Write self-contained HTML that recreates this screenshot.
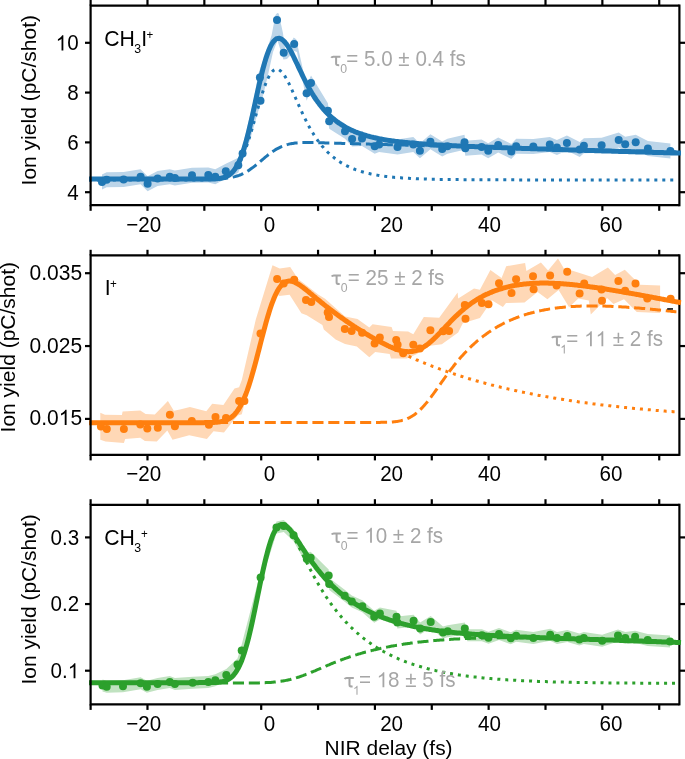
<!DOCTYPE html>
<html><head><meta charset="utf-8"><style>
html,body{margin:0;padding:0;background:#fff;}
svg{display:block;will-change:transform;}
.k{stroke:#000;stroke-width:2.2;fill:none;stroke-linecap:butt;}
.frame{stroke:#000;stroke-width:2.2;fill:none;}
.t{font-family:"Liberation Sans",sans-serif;font-size:20.6px;fill:#000;}
.yl{font-size:21.0px;} .xl{font-size:20.95px;}
.lab{font-size:21.2px;}
.g{fill:#a6a6a6;}
.one,.tau{fill-opacity:0;}
.sub{font-size:12.3px;} .sup{font-size:11.6px;}
</style></head><body>
<svg width="685" height="759" viewBox="0 0 685 759">
<path d="M679.40,5.60 L679.40,205.20" class="frame" style="stroke-linecap:square"/>
<path d="M679.40,255.40 L679.40,454.80" class="frame" style="stroke-linecap:square"/>
<path d="M679.40,504.80 L679.40,704.30" class="frame" style="stroke-linecap:square"/>
<clipPath id="c0"><rect x="89.0" y="4.6" width="592.6" height="201.6"/></clipPath>
<clipPath id="c0b"><rect x="89.0" y="4.6" width="587.5" height="201.6"/></clipPath>
<path d="M102.0,174.5 106.6,172.2 123.6,172.1 140.6,169.2 147.6,176.2 157.6,171.1 169.8,169.2 174.9,170.6 192.0,167.8 208.3,167.6 215.3,169.2 225.8,163.8 238.3,157.8 242.6,145.9 253.2,102.4 258.4,73.4 264.3,57.6 271.6,35.3 275.5,14.9 277.2,13.1 278.7,13.6 283.0,33.3 285.5,52.0 293.7,37.5 296.2,39.2 306.6,85.7 311.0,75.5 327.9,103.3 329.2,113.8 345.0,123.8 352.1,131.6 362.0,130.9 374.7,138.7 379.1,136.9 397.5,139.5 413.3,136.9 419.9,143.2 430.4,134.3 442.2,141.4 447.4,138.7 464.5,134.8 465.3,140.8 481.6,139.5 488.2,143.2 498.2,137.4 511.3,143.9 516.2,138.8 533.3,139.1 549.8,137.1 556.9,140.0 566.9,135.4 579.7,141.9 583.9,138.2 601.6,137.7 618.7,132.6 625.2,136.8 635.7,134.8 647.9,141.0 670.4,143.6 670.4,158.6 647.9,156.0 635.7,149.8 625.2,151.8 618.7,147.6 601.6,152.7 583.9,153.2 579.7,156.9 566.9,150.4 556.9,155.0 549.8,152.1 533.3,154.1 516.2,153.8 511.3,158.9 498.2,152.4 488.2,158.2 481.6,154.5 465.3,155.8 464.5,149.8 447.4,153.7 442.2,156.4 430.4,149.3 419.9,158.2 413.3,151.9 397.5,154.5 379.1,151.9 374.7,153.7 362.0,145.9 352.1,146.6 345.0,138.8 329.2,128.8 327.9,118.3 311.0,90.5 306.6,100.7 297.0,52.0 294.2,50.9 287.0,59.0 283.4,59.5 277.5,40.5 273.0,52.0 268.0,75.0 262.0,100.0 258.0,112.0 250.0,140.0 242.6,160.9 238.3,172.8 225.8,178.8 215.3,184.2 208.3,182.6 192.0,182.8 174.9,185.6 169.8,184.2 157.6,186.1 147.6,191.2 140.6,184.2 123.6,187.1 106.6,187.2 102.0,189.5 Z" fill="#bcd5e9" stroke="none"/>
<g clip-path="url(#c0b)"><path d="M89.0,179.9 90.0,179.9 91.0,179.9 92.0,179.9 93.0,179.9 94.0,179.9 95.0,179.9 96.0,179.9 97.0,179.9 98.0,179.9 99.0,179.9 100.0,179.9 101.0,179.9 102.0,179.9 103.0,179.9 104.0,179.9 105.0,179.9 106.0,179.9 107.0,179.9 108.0,179.9 109.0,179.9 110.0,179.9 111.0,179.9 112.0,179.9 113.0,179.9 114.0,179.9 115.0,179.9 116.0,179.9 117.0,179.9 118.0,179.9 119.0,179.9 120.0,179.9 121.0,179.9 122.0,179.9 123.0,179.9 124.0,179.9 125.0,179.9 126.0,179.9 127.0,179.9 128.0,179.9 129.0,179.9 130.0,179.9 131.0,179.9 132.0,179.9 133.0,179.9 134.0,179.9 135.0,179.9 136.0,179.9 137.0,179.9 138.0,179.9 139.0,179.9 140.0,179.9 141.0,179.9 142.0,179.9 143.0,179.9 144.0,179.9 145.0,179.9 146.0,179.9 147.0,179.9 148.0,179.9 149.0,179.9 150.0,179.9 151.0,179.9 152.0,179.9 153.0,179.9 154.0,179.9 155.0,179.9 156.0,179.9 157.0,179.9 158.0,179.9 159.0,179.9 160.0,179.9 161.0,179.9 162.0,179.9 163.0,179.9 164.0,179.9 165.0,179.9 166.0,179.9 167.0,179.9 168.0,179.9 169.0,179.9 170.0,179.9 171.0,179.9 172.0,179.9 173.0,179.9 174.0,179.9 175.0,179.9 176.0,179.9 177.0,179.9 178.0,179.9 179.0,179.9 180.0,179.9 181.0,179.9 182.0,179.9 183.0,179.9 184.0,179.9 185.0,179.9 186.0,179.9 187.0,179.9 188.0,179.9 189.0,179.9 190.0,179.9 191.0,179.9 192.0,179.9 193.0,179.9 194.0,179.9 195.0,179.9 196.0,179.9 197.0,179.9 198.0,179.9 199.0,179.9 200.0,179.9 201.0,179.9 202.0,179.9 203.0,179.9 204.0,179.8 205.0,179.8 206.0,179.8 207.0,179.8 208.0,179.8 209.0,179.8 210.0,179.7 211.0,179.7 212.0,179.7 213.0,179.6 214.0,179.5 215.0,179.5 216.0,179.4 217.0,179.3 218.0,179.2 219.0,179.0 220.0,178.8 221.0,178.6 222.0,178.4 223.0,178.1 224.0,177.8 225.0,177.5 226.0,177.0 227.0,176.6 228.0,176.0 229.0,175.4 230.0,174.7 231.0,173.9 232.0,173.1 233.0,172.1 234.0,171.0 235.0,169.8 236.0,168.5 237.0,167.1 238.0,165.5 239.0,163.8 240.0,162.0 241.0,160.0 242.0,157.8 243.0,155.6 244.0,153.1 245.0,150.6 246.0,147.8 247.0,145.0 248.0,142.0 249.0,138.9 250.0,135.7 251.0,132.4 252.0,129.0 253.0,125.5 254.0,122.0 255.0,118.5 256.0,114.9 257.0,111.4 258.0,107.8 259.0,104.4 260.0,100.9 261.0,97.6 262.0,94.4 263.0,91.3 264.0,88.3 265.0,85.6 266.0,82.9 267.0,80.5 268.0,78.3 269.0,76.4 270.0,74.6 271.0,73.1 272.0,71.9 273.0,70.8 274.0,70.1 275.0,69.5 276.0,69.3 277.0,69.2 278.0,69.4 279.0,69.8 280.0,70.5 281.0,71.3 282.0,72.3 283.0,73.5 284.0,74.9 285.0,76.4 286.0,78.1 287.0,79.8 288.0,81.7 289.0,83.7 290.0,85.7 291.0,87.9 292.0,90.0 293.0,92.3 294.0,94.5 295.0,96.8 296.0,99.0 297.0,101.3 298.0,103.6 299.0,105.8 300.0,108.1 301.0,110.3 302.0,112.4 303.0,114.6 304.0,116.7 305.0,118.7 306.0,120.7 307.0,122.7 308.0,124.6 309.0,126.4 310.0,128.2 311.0,130.0 312.0,131.7 313.0,133.3 314.0,134.9 315.0,136.5 316.0,138.0 317.0,139.4 318.0,140.8 319.0,142.2 320.0,143.5 321.0,144.7 322.0,146.0 323.0,147.1 324.0,148.3 325.0,149.4 326.0,150.5 327.0,151.5 328.0,152.5 329.0,153.4 330.0,154.4 331.0,155.2 332.0,156.1 333.0,156.9 334.0,157.7 335.0,158.5 336.0,159.3 337.0,160.0 338.0,160.7 339.0,161.4 340.0,162.0 341.0,162.6 342.0,163.2 343.0,163.8 344.0,164.4 345.0,164.9 346.0,165.4 347.0,165.9 348.0,166.4 349.0,166.9 350.0,167.4 351.0,167.8 352.0,168.2 353.0,168.6 354.0,169.0 355.0,169.4 356.0,169.8 357.0,170.1 358.0,170.5 359.0,170.8 360.0,171.1 361.0,171.4 362.0,171.7 363.0,172.0 364.0,172.3 365.0,172.5 366.0,172.8 367.0,173.0 368.0,173.3 369.0,173.5 370.0,173.7 371.0,174.0 372.0,174.2 373.0,174.4 374.0,174.6 375.0,174.7 376.0,174.9 377.0,175.1 378.0,175.3 379.0,175.4 380.0,175.6 381.0,175.7 382.0,175.9 383.0,176.0 384.0,176.1 385.0,176.3 386.0,176.4 387.0,176.5 388.0,176.6 389.0,176.8 390.0,176.9 391.0,177.0 392.0,177.1 393.0,177.2 394.0,177.3 395.0,177.4 396.0,177.4 397.0,177.5 398.0,177.6 399.0,177.7 400.0,177.8 401.0,177.8 402.0,177.9 403.0,178.0 404.0,178.0 405.0,178.1 406.0,178.2 407.0,178.2 408.0,178.3 409.0,178.3 410.0,178.4 411.0,178.5 412.0,178.5 413.0,178.6 414.0,178.6 415.0,178.6 416.0,178.7 417.0,178.7 418.0,178.8 419.0,178.8 420.0,178.8 421.0,178.9 422.0,178.9 423.0,179.0 424.0,179.0 425.0,179.0 426.0,179.0 427.0,179.1 428.0,179.1 429.0,179.1 430.0,179.2 431.0,179.2 432.0,179.2 433.0,179.2 434.0,179.3 435.0,179.3 436.0,179.3 437.0,179.3 438.0,179.3 439.0,179.4 440.0,179.4 441.0,179.4 442.0,179.4 443.0,179.4 444.0,179.4 445.0,179.5 446.0,179.5 447.0,179.5 448.0,179.5 449.0,179.5 450.0,179.5 451.0,179.5 452.0,179.6 453.0,179.6 454.0,179.6 455.0,179.6 456.0,179.6 457.0,179.6 458.0,179.6 459.0,179.6 460.0,179.6 461.0,179.6 462.0,179.6 463.0,179.7 464.0,179.7 465.0,179.7 466.0,179.7 467.0,179.7 468.0,179.7 469.0,179.7 470.0,179.7 471.0,179.7 472.0,179.7 473.0,179.7 474.0,179.7 475.0,179.7 476.0,179.7 477.0,179.7 478.0,179.8 479.0,179.8 480.0,179.8 481.0,179.8 482.0,179.8 483.0,179.8 484.0,179.8 485.0,179.8 486.0,179.8 487.0,179.8 488.0,179.8 489.0,179.8 490.0,179.8 491.0,179.8 492.0,179.8 493.0,179.8 494.0,179.8 495.0,179.8 496.0,179.8 497.0,179.8 498.0,179.8 499.0,179.8 500.0,179.8 501.0,179.8 502.0,179.8 503.0,179.8 504.0,179.8 505.0,179.8 506.0,179.8 507.0,179.8 508.0,179.8 509.0,179.8 510.0,179.8 511.0,179.8 512.0,179.8 513.0,179.8 514.0,179.8 515.0,179.8 516.0,179.8 517.0,179.8 518.0,179.9 519.0,179.9 520.0,179.9 521.0,179.9 522.0,179.9 523.0,179.9 524.0,179.9 525.0,179.9 526.0,179.9 527.0,179.9 528.0,179.9 529.0,179.9 530.0,179.9 531.0,179.9 532.0,179.9 533.0,179.9 534.0,179.9 535.0,179.9 536.0,179.9 537.0,179.9 538.0,179.9 539.0,179.9 540.0,179.9 541.0,179.9 542.0,179.9 543.0,179.9 544.0,179.9 545.0,179.9 546.0,179.9 547.0,179.9 548.0,179.9 549.0,179.9 550.0,179.9 551.0,179.9 552.0,179.9 553.0,179.9 554.0,179.9 555.0,179.9 556.0,179.9 557.0,179.9 558.0,179.9 559.0,179.9 560.0,179.9 561.0,179.9 562.0,179.9 563.0,179.9 564.0,179.9 565.0,179.9 566.0,179.9 567.0,179.9 568.0,179.9 569.0,179.9 570.0,179.9 571.0,179.9 572.0,179.9 573.0,179.9 574.0,179.9 575.0,179.9 576.0,179.9 577.0,179.9 578.0,179.9 579.0,179.9 580.0,179.9 581.0,179.9 582.0,179.9 583.0,179.9 584.0,179.9 585.0,179.9 586.0,179.9 587.0,179.9 588.0,179.9 589.0,179.9 590.0,179.9 591.0,179.9 592.0,179.9 593.0,179.9 594.0,179.9 595.0,179.9 596.0,179.9 597.0,179.9 598.0,179.9 599.0,179.9 600.0,179.9 601.0,179.9 602.0,179.9 603.0,179.9 604.0,179.9 605.0,179.9 606.0,179.9 607.0,179.9 608.0,179.9 609.0,179.9 610.0,179.9 611.0,179.9 612.0,179.9 613.0,179.9 614.0,179.9 615.0,179.9 616.0,179.9 617.0,179.9 618.0,179.9 619.0,179.9 620.0,179.9 621.0,179.9 622.0,179.9 623.0,179.9 624.0,179.9 625.0,179.9 626.0,179.9 627.0,179.9 628.0,179.9 629.0,179.9 630.0,179.9 631.0,179.9 632.0,179.9 633.0,179.9 634.0,179.9 635.0,179.9 636.0,179.9 637.0,179.9 638.0,179.9 639.0,179.9 640.0,179.9 641.0,179.9 642.0,179.9 643.0,179.9 644.0,179.9 645.0,179.9 646.0,179.9 647.0,179.9 648.0,179.9 649.0,179.9 650.0,179.9 651.0,179.9 652.0,179.9 653.0,179.9 654.0,179.9 655.0,179.9 656.0,179.9 657.0,179.9 658.0,179.9 659.0,179.9 660.0,179.9 661.0,179.9 662.0,179.9 663.0,179.9 664.0,179.9 665.0,179.9 666.0,179.9 667.0,179.9 668.0,179.9 669.0,179.9 670.0,179.9 671.0,179.9 672.0,179.9 673.0,179.9 674.0,179.9 675.0,179.9 676.0,179.9 677.0,179.9 678.0,179.9 679.0,179.9 680.0,179.9 681.0,179.9" fill="none" stroke="#1f77b4" stroke-width="3" stroke-dasharray="3 4.95"/><path d="M89.0,179.0 90.0,179.0 91.0,179.0 92.0,179.0 93.0,179.0 94.0,179.0 95.0,179.0 96.0,179.0 97.0,179.0 98.0,179.0 99.0,179.0 100.0,179.0 101.0,179.0 102.0,179.0 103.0,179.0 104.0,179.0 105.0,179.0 106.0,179.0 107.0,179.0 108.0,179.0 109.0,179.0 110.0,179.0 111.0,179.0 112.0,179.0 113.0,179.0 114.0,179.0 115.0,179.0 116.0,179.0 117.0,179.0 118.0,179.0 119.0,179.0 120.0,179.0 121.0,179.0 122.0,179.0 123.0,179.0 124.0,179.0 125.0,179.0 126.0,179.0 127.0,179.0 128.0,179.0 129.0,179.0 130.0,179.0 131.0,179.0 132.0,179.0 133.0,179.0 134.0,179.0 135.0,179.0 136.0,179.0 137.0,179.0 138.0,179.0 139.0,179.0 140.0,179.0 141.0,179.0 142.0,179.0 143.0,179.0 144.0,179.0 145.0,179.0 146.0,179.0 147.0,179.0 148.0,179.0 149.0,179.0 150.0,179.0 151.0,179.0 152.0,179.0 153.0,179.0 154.0,179.0 155.0,179.0 156.0,179.0 157.0,179.0 158.0,179.0 159.0,179.0 160.0,179.0 161.0,179.0 162.0,179.0 163.0,179.0 164.0,179.0 165.0,179.0 166.0,179.0 167.0,179.0 168.0,179.0 169.0,179.0 170.0,179.0 171.0,179.0 172.0,179.0 173.0,179.0 174.0,179.0 175.0,179.0 176.0,179.0 177.0,179.0 178.0,179.0 179.0,179.0 180.0,179.0 181.0,179.0 182.0,179.0 183.0,179.0 184.0,179.0 185.0,179.0 186.0,179.0 187.0,179.0 188.0,179.0 189.0,179.0 190.0,179.0 191.0,179.0 192.0,179.0 193.0,179.0 194.0,179.0 195.0,179.0 196.0,179.0 197.0,179.0 198.0,179.0 199.0,179.0 200.0,179.0 201.0,179.0 202.0,179.0 203.0,179.0 204.0,179.0 205.0,179.0 206.0,179.0 207.0,179.0 208.0,179.0 209.0,179.0 210.0,179.0 211.0,179.0 212.0,179.0 213.0,178.9 214.0,178.9 215.0,178.9 216.0,178.9 217.0,178.8 218.0,178.8 219.0,178.8 220.0,178.7 221.0,178.7 222.0,178.6 223.0,178.5 224.0,178.4 225.0,178.4 226.0,178.3 227.0,178.1 228.0,178.0 229.0,177.9 230.0,177.7 231.0,177.5 232.0,177.3 233.0,177.1 234.0,176.9 235.0,176.6 236.0,176.3 237.0,176.0 238.0,175.7 239.0,175.4 240.0,175.0 241.0,174.6 242.0,174.1 243.0,173.6 244.0,173.1 245.0,172.6 246.0,172.1 247.0,171.5 248.0,170.9 249.0,170.2 250.0,169.5 251.0,168.8 252.0,168.1 253.0,167.4 254.0,166.6 255.0,165.8 256.0,165.0 257.0,164.2 258.0,163.4 259.0,162.5 260.0,161.7 261.0,160.8 262.0,160.0 263.0,159.1 264.0,158.3 265.0,157.4 266.0,156.6 267.0,155.8 268.0,155.0 269.0,154.2 270.0,153.5 271.0,152.7 272.0,152.0 273.0,151.3 274.0,150.7 275.0,150.0 276.0,149.4 277.0,148.8 278.0,148.3 279.0,147.8 280.0,147.3 281.0,146.8 282.0,146.4 283.0,146.0 284.0,145.6 285.0,145.2 286.0,144.9 287.0,144.6 288.0,144.4 289.0,144.1 290.0,143.9 291.0,143.7 292.0,143.5 293.0,143.4 294.0,143.2 295.0,143.1 296.0,143.0 297.0,142.9 298.0,142.8 299.0,142.7 300.0,142.7 301.0,142.6 302.0,142.6 303.0,142.6 304.0,142.6 305.0,142.5 306.0,142.5 307.0,142.5 308.0,142.5 309.0,142.5 310.0,142.5 311.0,142.5 312.0,142.6 313.0,142.6 314.0,142.6 315.0,142.6 316.0,142.6 317.0,142.7 318.0,142.7 319.0,142.7 320.0,142.7 321.0,142.8 322.0,142.8 323.0,142.8 324.0,142.8 325.0,142.9 326.0,142.9 327.0,142.9 328.0,142.9 329.0,143.0 330.0,143.0 331.0,143.0 332.0,143.1 333.0,143.1 334.0,143.1 335.0,143.2 336.0,143.2 337.0,143.2 338.0,143.2 339.0,143.3 340.0,143.3 341.0,143.3 342.0,143.4 343.0,143.4 344.0,143.4 345.0,143.4 346.0,143.5 347.0,143.5 348.0,143.5 349.0,143.6 350.0,143.6 351.0,143.6 352.0,143.6 353.0,143.7 354.0,143.7 355.0,143.7 356.0,143.8 357.0,143.8 358.0,143.8 359.0,143.8 360.0,143.9 361.0,143.9 362.0,143.9 363.0,144.0 364.0,144.0 365.0,144.0 366.0,144.0 367.0,144.1 368.0,144.1 369.0,144.1 370.0,144.2 371.0,144.2 372.0,144.2 373.0,144.2 374.0,144.3 375.0,144.3 376.0,144.3 377.0,144.4 378.0,144.4 379.0,144.4 380.0,144.4 381.0,144.5 382.0,144.5 383.0,144.5 384.0,144.6 385.0,144.6 386.0,144.6 387.0,144.6 388.0,144.7 389.0,144.7 390.0,144.7 391.0,144.8 392.0,144.8 393.0,144.8 394.0,144.8 395.0,144.9 396.0,144.9 397.0,144.9 398.0,144.9 399.0,145.0 400.0,145.0 401.0,145.0 402.0,145.1 403.0,145.1 404.0,145.1 405.0,145.1 406.0,145.2 407.0,145.2 408.0,145.2 409.0,145.3 410.0,145.3 411.0,145.3 412.0,145.3 413.0,145.4 414.0,145.4 415.0,145.4 416.0,145.4 417.0,145.5 418.0,145.5 419.0,145.5 420.0,145.6 421.0,145.6 422.0,145.6 423.0,145.6 424.0,145.7 425.0,145.7 426.0,145.7 427.0,145.7 428.0,145.8 429.0,145.8 430.0,145.8 431.0,145.9 432.0,145.9 433.0,145.9 434.0,145.9 435.0,146.0 436.0,146.0 437.0,146.0 438.0,146.0 439.0,146.1 440.0,146.1 441.0,146.1 442.0,146.2 443.0,146.2 444.0,146.2 445.0,146.2 446.0,146.3 447.0,146.3 448.0,146.3 449.0,146.3 450.0,146.4 451.0,146.4 452.0,146.4 453.0,146.4 454.0,146.5 455.0,146.5 456.0,146.5 457.0,146.5 458.0,146.6 459.0,146.6 460.0,146.6 461.0,146.7 462.0,146.7 463.0,146.7 464.0,146.7 465.0,146.8 466.0,146.8 467.0,146.8 468.0,146.8 469.0,146.9 470.0,146.9 471.0,146.9 472.0,146.9 473.0,147.0 474.0,147.0 475.0,147.0 476.0,147.0 477.0,147.1 478.0,147.1 479.0,147.1 480.0,147.2 481.0,147.2 482.0,147.2 483.0,147.2 484.0,147.3 485.0,147.3 486.0,147.3 487.0,147.3 488.0,147.4 489.0,147.4 490.0,147.4 491.0,147.4 492.0,147.5 493.0,147.5 494.0,147.5 495.0,147.5 496.0,147.6 497.0,147.6 498.0,147.6 499.0,147.6 500.0,147.7 501.0,147.7 502.0,147.7 503.0,147.7 504.0,147.8 505.0,147.8 506.0,147.8 507.0,147.8 508.0,147.9 509.0,147.9 510.0,147.9 511.0,147.9 512.0,148.0 513.0,148.0 514.0,148.0 515.0,148.1 516.0,148.1 517.0,148.1 518.0,148.1 519.0,148.2 520.0,148.2 521.0,148.2 522.0,148.2 523.0,148.3 524.0,148.3 525.0,148.3 526.0,148.3 527.0,148.4 528.0,148.4 529.0,148.4 530.0,148.4 531.0,148.5 532.0,148.5 533.0,148.5 534.0,148.5 535.0,148.6 536.0,148.6 537.0,148.6 538.0,148.6 539.0,148.7 540.0,148.7 541.0,148.7 542.0,148.7 543.0,148.8 544.0,148.8 545.0,148.8 546.0,148.8 547.0,148.8 548.0,148.9 549.0,148.9 550.0,148.9 551.0,148.9 552.0,149.0 553.0,149.0 554.0,149.0 555.0,149.0 556.0,149.1 557.0,149.1 558.0,149.1 559.0,149.1 560.0,149.2 561.0,149.2 562.0,149.2 563.0,149.2 564.0,149.3 565.0,149.3 566.0,149.3 567.0,149.3 568.0,149.4 569.0,149.4 570.0,149.4 571.0,149.4 572.0,149.5 573.0,149.5 574.0,149.5 575.0,149.5 576.0,149.6 577.0,149.6 578.0,149.6 579.0,149.6 580.0,149.7 581.0,149.7 582.0,149.7 583.0,149.7 584.0,149.7 585.0,149.8 586.0,149.8 587.0,149.8 588.0,149.8 589.0,149.9 590.0,149.9 591.0,149.9 592.0,149.9 593.0,150.0 594.0,150.0 595.0,150.0 596.0,150.0 597.0,150.1 598.0,150.1 599.0,150.1 600.0,150.1 601.0,150.1 602.0,150.2 603.0,150.2 604.0,150.2 605.0,150.2 606.0,150.3 607.0,150.3 608.0,150.3 609.0,150.3 610.0,150.4 611.0,150.4 612.0,150.4 613.0,150.4 614.0,150.5 615.0,150.5 616.0,150.5 617.0,150.5 618.0,150.5 619.0,150.6 620.0,150.6 621.0,150.6 622.0,150.6 623.0,150.7 624.0,150.7 625.0,150.7 626.0,150.7 627.0,150.8 628.0,150.8 629.0,150.8 630.0,150.8 631.0,150.8 632.0,150.9 633.0,150.9 634.0,150.9 635.0,150.9 636.0,151.0 637.0,151.0 638.0,151.0 639.0,151.0 640.0,151.1 641.0,151.1 642.0,151.1 643.0,151.1 644.0,151.1 645.0,151.2 646.0,151.2 647.0,151.2 648.0,151.2 649.0,151.3 650.0,151.3 651.0,151.3 652.0,151.3 653.0,151.3 654.0,151.4 655.0,151.4 656.0,151.4 657.0,151.4 658.0,151.5 659.0,151.5 660.0,151.5 661.0,151.5 662.0,151.6 663.0,151.6 664.0,151.6 665.0,151.6 666.0,151.6 667.0,151.7 668.0,151.7 669.0,151.7 670.0,151.7 671.0,151.8 672.0,151.8 673.0,151.8 674.0,151.8 675.0,151.8 676.0,151.9 677.0,151.9 678.0,151.9 679.0,151.9 680.0,152.0 681.0,152.0" fill="none" stroke="#1f77b4" stroke-width="3" stroke-dasharray="11.1 4.8" stroke-dashoffset="-0.8"/></g><g clip-path="url(#c0)"><path d="M89.0,179.1 90.0,179.1 91.0,179.1 92.0,179.1 93.0,179.1 94.0,179.1 95.0,179.1 96.0,179.1 97.0,179.1 98.0,179.1 99.0,179.1 100.0,179.1 101.0,179.1 102.0,179.1 103.0,179.1 104.0,179.1 105.0,179.1 106.0,179.1 107.0,179.1 108.0,179.1 109.0,179.1 110.0,179.1 111.0,179.1 112.0,179.1 113.0,179.1 114.0,179.1 115.0,179.1 116.0,179.1 117.0,179.1 118.0,179.1 119.0,179.1 120.0,179.1 121.0,179.1 122.0,179.1 123.0,179.1 124.0,179.1 125.0,179.1 126.0,179.1 127.0,179.1 128.0,179.1 129.0,179.1 130.0,179.1 131.0,179.1 132.0,179.1 133.0,179.1 134.0,179.1 135.0,179.1 136.0,179.1 137.0,179.1 138.0,179.1 139.0,179.1 140.0,179.1 141.0,179.1 142.0,179.1 143.0,179.1 144.0,179.1 145.0,179.1 146.0,179.1 147.0,179.1 148.0,179.1 149.0,179.1 150.0,179.1 151.0,179.1 152.0,179.1 153.0,179.1 154.0,179.1 155.0,179.1 156.0,179.1 157.0,179.1 158.0,179.1 159.0,179.1 160.0,179.1 161.0,179.1 162.0,179.1 163.0,179.1 164.0,179.1 165.0,179.1 166.0,179.1 167.0,179.1 168.0,179.1 169.0,179.1 170.0,179.1 171.0,179.1 172.0,179.1 173.0,179.1 174.0,179.1 175.0,179.1 176.0,179.1 177.0,179.1 178.0,179.1 179.0,179.1 180.0,179.1 181.0,179.1 182.0,179.1 183.0,179.1 184.0,179.1 185.0,179.1 186.0,179.1 187.0,179.1 188.0,179.1 189.0,179.1 190.0,179.1 191.0,179.1 192.0,179.1 193.0,179.1 194.0,179.1 195.0,179.1 196.0,179.1 197.0,179.1 198.0,179.1 199.0,179.1 200.0,179.1 201.0,179.1 202.0,179.1 203.0,179.1 204.0,179.1 205.0,179.1 206.0,179.1 207.0,179.1 208.0,179.1 209.0,179.1 210.0,179.0 211.0,179.0 212.0,179.0 213.0,179.0 214.0,178.9 215.0,178.9 216.0,178.8 217.0,178.7 218.0,178.6 219.0,178.5 220.0,178.4 221.0,178.2 222.0,178.0 223.0,177.8 224.0,177.5 225.0,177.2 226.0,176.8 227.0,176.3 228.0,175.8 229.0,175.1 230.0,174.4 231.0,173.6 232.0,172.6 233.0,171.6 234.0,170.3 235.0,169.0 236.0,167.4 237.0,165.7 238.0,163.9 239.0,161.8 240.0,159.5 241.0,157.1 242.0,154.4 243.0,151.5 244.0,148.4 245.0,145.1 246.0,141.6 247.0,138.0 248.0,134.1 249.0,130.1 250.0,125.9 251.0,121.6 252.0,117.2 253.0,112.7 254.0,108.1 255.0,103.5 256.0,98.9 257.0,94.3 258.0,89.8 259.0,85.3 260.0,80.9 261.0,76.7 262.0,72.6 263.0,68.7 264.0,65.0 265.0,61.4 266.0,58.1 267.0,55.1 268.0,52.3 269.0,49.7 270.0,47.4 271.0,45.4 272.0,43.6 273.0,42.1 274.0,40.9 275.0,39.9 276.0,39.1 277.0,38.6 278.0,38.4 279.0,38.3 280.0,38.5 281.0,38.9 282.0,39.5 283.0,40.2 284.0,41.2 285.0,42.3 286.0,43.5 287.0,44.9 288.0,46.4 289.0,48.0 290.0,49.8 291.0,51.6 292.0,53.5 293.0,55.5 294.0,57.5 295.0,59.6 296.0,61.7 297.0,63.8 298.0,65.9 299.0,68.1 300.0,70.2 301.0,72.3 302.0,74.4 303.0,76.5 304.0,78.5 305.0,80.5 306.0,82.5 307.0,84.4 308.0,86.2 309.0,88.1 310.0,89.8 311.0,91.6 312.0,93.2 313.0,94.9 314.0,96.5 315.0,98.0 316.0,99.5 317.0,100.9 318.0,102.3 319.0,103.6 320.0,105.0 321.0,106.2 322.0,107.4 323.0,108.6 324.0,109.8 325.0,110.9 326.0,111.9 327.0,113.0 328.0,114.0 329.0,114.9 330.0,115.9 331.0,116.8 332.0,117.7 333.0,118.5 334.0,119.3 335.0,120.1 336.0,120.9 337.0,121.7 338.0,122.4 339.0,123.1 340.0,123.7 341.0,124.4 342.0,125.0 343.0,125.6 344.0,126.2 345.0,126.8 346.0,127.4 347.0,127.9 348.0,128.4 349.0,128.9 350.0,129.4 351.0,129.9 352.0,130.4 353.0,130.8 354.0,131.2 355.0,131.7 356.0,132.1 357.0,132.5 358.0,132.8 359.0,133.2 360.0,133.6 361.0,133.9 362.0,134.2 363.0,134.6 364.0,134.9 365.0,135.2 366.0,135.5 367.0,135.8 368.0,136.1 369.0,136.3 370.0,136.6 371.0,136.9 372.0,137.1 373.0,137.3 374.0,137.6 375.0,137.8 376.0,138.0 377.0,138.2 378.0,138.5 379.0,138.7 380.0,138.9 381.0,139.0 382.0,139.2 383.0,139.4 384.0,139.6 385.0,139.8 386.0,139.9 387.0,140.1 388.0,140.3 389.0,140.4 390.0,140.6 391.0,140.7 392.0,140.9 393.0,141.0 394.0,141.1 395.0,141.3 396.0,141.4 397.0,141.5 398.0,141.6 399.0,141.8 400.0,141.9 401.0,142.0 402.0,142.1 403.0,142.2 404.0,142.3 405.0,142.4 406.0,142.5 407.0,142.6 408.0,142.7 409.0,142.8 410.0,142.9 411.0,143.0 412.0,143.1 413.0,143.2 414.0,143.3 415.0,143.3 416.0,143.4 417.0,143.5 418.0,143.6 419.0,143.7 420.0,143.7 421.0,143.8 422.0,143.9 423.0,144.0 424.0,144.0 425.0,144.1 426.0,144.2 427.0,144.2 428.0,144.3 429.0,144.4 430.0,144.4 431.0,144.5 432.0,144.6 433.0,144.6 434.0,144.7 435.0,144.7 436.0,144.8 437.0,144.9 438.0,144.9 439.0,145.0 440.0,145.0 441.0,145.1 442.0,145.1 443.0,145.2 444.0,145.2 445.0,145.3 446.0,145.4 447.0,145.4 448.0,145.5 449.0,145.5 450.0,145.6 451.0,145.6 452.0,145.7 453.0,145.7 454.0,145.7 455.0,145.8 456.0,145.8 457.0,145.9 458.0,145.9 459.0,146.0 460.0,146.0 461.0,146.1 462.0,146.1 463.0,146.2 464.0,146.2 465.0,146.2 466.0,146.3 467.0,146.3 468.0,146.4 469.0,146.4 470.0,146.4 471.0,146.5 472.0,146.5 473.0,146.6 474.0,146.6 475.0,146.7 476.0,146.7 477.0,146.7 478.0,146.8 479.0,146.8 480.0,146.8 481.0,146.9 482.0,146.9 483.0,147.0 484.0,147.0 485.0,147.0 486.0,147.1 487.0,147.1 488.0,147.2 489.0,147.2 490.0,147.2 491.0,147.3 492.0,147.3 493.0,147.3 494.0,147.4 495.0,147.4 496.0,147.4 497.0,147.5 498.0,147.5 499.0,147.6 500.0,147.6 501.0,147.6 502.0,147.7 503.0,147.7 504.0,147.7 505.0,147.8 506.0,147.8 507.0,147.8 508.0,147.9 509.0,147.9 510.0,147.9 511.0,148.0 512.0,148.0 513.0,148.0 514.0,148.1 515.0,148.1 516.0,148.1 517.0,148.2 518.0,148.2 519.0,148.3 520.0,148.3 521.0,148.3 522.0,148.4 523.0,148.4 524.0,148.4 525.0,148.5 526.0,148.5 527.0,148.5 528.0,148.6 529.0,148.6 530.0,148.6 531.0,148.7 532.0,148.7 533.0,148.7 534.0,148.8 535.0,148.8 536.0,148.8 537.0,148.8 538.0,148.9 539.0,148.9 540.0,148.9 541.0,149.0 542.0,149.0 543.0,149.0 544.0,149.1 545.0,149.1 546.0,149.1 547.0,149.2 548.0,149.2 549.0,149.2 550.0,149.3 551.0,149.3 552.0,149.3 553.0,149.4 554.0,149.4 555.0,149.4 556.0,149.5 557.0,149.5 558.0,149.5 559.0,149.6 560.0,149.6 561.0,149.6 562.0,149.6 563.0,149.7 564.0,149.7 565.0,149.7 566.0,149.8 567.0,149.8 568.0,149.8 569.0,149.9 570.0,149.9 571.0,149.9 572.0,150.0 573.0,150.0 574.0,150.0 575.0,150.1 576.0,150.1 577.0,150.1 578.0,150.1 579.0,150.2 580.0,150.2 581.0,150.2 582.0,150.3 583.0,150.3 584.0,150.3 585.0,150.4 586.0,150.4 587.0,150.4 588.0,150.4 589.0,150.5 590.0,150.5 591.0,150.5 592.0,150.6 593.0,150.6 594.0,150.6 595.0,150.7 596.0,150.7 597.0,150.7 598.0,150.8 599.0,150.8 600.0,150.8 601.0,150.8 602.0,150.9 603.0,150.9 604.0,150.9 605.0,151.0 606.0,151.0 607.0,151.0 608.0,151.1 609.0,151.1 610.0,151.1 611.0,151.1 612.0,151.2 613.0,151.2 614.0,151.2 615.0,151.3 616.0,151.3 617.0,151.3 618.0,151.3 619.0,151.4 620.0,151.4 621.0,151.4 622.0,151.5 623.0,151.5 624.0,151.5 625.0,151.5 626.0,151.6 627.0,151.6 628.0,151.6 629.0,151.7 630.0,151.7 631.0,151.7 632.0,151.8 633.0,151.8 634.0,151.8 635.0,151.8 636.0,151.9 637.0,151.9 638.0,151.9 639.0,152.0 640.0,152.0 641.0,152.0 642.0,152.0 643.0,152.1 644.0,152.1 645.0,152.1 646.0,152.2 647.0,152.2 648.0,152.2 649.0,152.2 650.0,152.3 651.0,152.3 652.0,152.3 653.0,152.4 654.0,152.4 655.0,152.4 656.0,152.4 657.0,152.5 658.0,152.5 659.0,152.5 660.0,152.5 661.0,152.6 662.0,152.6 663.0,152.6 664.0,152.7 665.0,152.7 666.0,152.7 667.0,152.7 668.0,152.8 669.0,152.8 670.0,152.8 671.0,152.9 672.0,152.9 673.0,152.9 674.0,152.9 675.0,153.0 676.0,153.0 677.0,153.0 678.0,153.0 679.0,153.1 680.0,153.1 681.0,153.1" fill="none" stroke="#1f77b4" stroke-width="5.0" stroke-linejoin="round"/></g>
<circle cx="102.0" cy="182.0" r="4" fill="#1f77b4"/><circle cx="106.6" cy="179.7" r="4" fill="#1f77b4"/><circle cx="123.6" cy="179.6" r="4" fill="#1f77b4"/><circle cx="140.6" cy="176.7" r="4" fill="#1f77b4"/><circle cx="147.6" cy="183.7" r="4" fill="#1f77b4"/><circle cx="157.6" cy="178.6" r="4" fill="#1f77b4"/><circle cx="169.8" cy="176.7" r="4" fill="#1f77b4"/><circle cx="174.9" cy="178.1" r="4" fill="#1f77b4"/><circle cx="192.0" cy="175.3" r="4" fill="#1f77b4"/><circle cx="208.3" cy="175.1" r="4" fill="#1f77b4"/><circle cx="215.3" cy="176.7" r="4" fill="#1f77b4"/><circle cx="225.8" cy="171.3" r="4" fill="#1f77b4"/><circle cx="238.3" cy="165.3" r="4" fill="#1f77b4"/><circle cx="242.6" cy="153.4" r="4" fill="#1f77b4"/><circle cx="259.9" cy="77.4" r="4" fill="#1f77b4"/><circle cx="260.5" cy="100.8" r="4" fill="#1f77b4"/><circle cx="277.0" cy="19.9" r="4" fill="#1f77b4"/><circle cx="283.7" cy="52.8" r="4" fill="#1f77b4"/><circle cx="294.2" cy="43.9" r="4" fill="#1f77b4"/><circle cx="306.6" cy="93.2" r="4" fill="#1f77b4"/><circle cx="311.0" cy="83.0" r="4" fill="#1f77b4"/><circle cx="327.9" cy="110.8" r="4" fill="#1f77b4"/><circle cx="329.2" cy="121.3" r="4" fill="#1f77b4"/><circle cx="345.0" cy="131.3" r="4" fill="#1f77b4"/><circle cx="352.1" cy="139.1" r="4" fill="#1f77b4"/><circle cx="362.0" cy="138.4" r="4" fill="#1f77b4"/><circle cx="374.7" cy="146.2" r="4" fill="#1f77b4"/><circle cx="379.1" cy="144.4" r="4" fill="#1f77b4"/><circle cx="397.5" cy="147.0" r="4" fill="#1f77b4"/><circle cx="413.3" cy="144.4" r="4" fill="#1f77b4"/><circle cx="419.9" cy="150.7" r="4" fill="#1f77b4"/><circle cx="430.4" cy="141.8" r="4" fill="#1f77b4"/><circle cx="442.2" cy="148.9" r="4" fill="#1f77b4"/><circle cx="447.4" cy="146.2" r="4" fill="#1f77b4"/><circle cx="464.5" cy="142.3" r="4" fill="#1f77b4"/><circle cx="465.3" cy="148.3" r="4" fill="#1f77b4"/><circle cx="481.6" cy="147.0" r="4" fill="#1f77b4"/><circle cx="488.2" cy="150.7" r="4" fill="#1f77b4"/><circle cx="498.2" cy="144.9" r="4" fill="#1f77b4"/><circle cx="511.3" cy="151.4" r="4" fill="#1f77b4"/><circle cx="516.2" cy="146.3" r="4" fill="#1f77b4"/><circle cx="533.3" cy="146.6" r="4" fill="#1f77b4"/><circle cx="549.8" cy="144.6" r="4" fill="#1f77b4"/><circle cx="556.9" cy="147.5" r="4" fill="#1f77b4"/><circle cx="566.9" cy="142.9" r="4" fill="#1f77b4"/><circle cx="579.7" cy="149.4" r="4" fill="#1f77b4"/><circle cx="583.9" cy="145.7" r="4" fill="#1f77b4"/><circle cx="601.6" cy="145.2" r="4" fill="#1f77b4"/><circle cx="618.7" cy="140.1" r="4" fill="#1f77b4"/><circle cx="625.2" cy="144.3" r="4" fill="#1f77b4"/><circle cx="635.7" cy="142.3" r="4" fill="#1f77b4"/><circle cx="647.9" cy="148.5" r="4" fill="#1f77b4"/><circle cx="670.4" cy="151.1" r="4" fill="#1f77b4"/>
<clipPath id="c1"><rect x="89.0" y="254.4" width="592.6" height="201.4"/></clipPath>
<clipPath id="c1b"><rect x="89.0" y="254.4" width="587.5" height="201.4"/></clipPath>
<path d="M100.3,412.7 104.9,414.7 121.9,415.0 122.6,411.4 140.3,410.4 145.6,414.1 154.8,414.4 167.9,400.9 173.8,410.8 180.0,409.6 189.9,406.9 206.3,411.3 212.2,403.7 223.4,405.0 234.5,388.5 239.1,387.2 241.8,380.0 255.8,319.6 272.5,265.2 279.7,268.5 290.2,266.9 298.1,279.0 318.5,294.8 325.1,298.7 345.0,316.4 357.5,319.1 369.3,327.6 372.6,324.3 391.6,326.9 393.0,330.9 408.1,331.5 413.3,334.2 423.8,317.1 439.2,317.8 457.6,292.4 458.2,298.4 474.0,288.5 479.9,289.8 490.4,270.1 501.6,278.0 506.2,266.2 525.1,262.9 526.4,271.0 540.9,262.5 548.1,270.4 558.0,258.5 563.9,268.4 571.8,270.4 592.1,276.9 607.9,267.5 615.1,275.1 624.8,269.8 640.0,284.7 660.1,285.5 660.1,313.1 636.8,312.0 624.0,299.2 613.5,304.0 607.1,298.0 590.8,314.4 588.8,300.6 578.3,298.6 569.1,307.2 558.6,290.1 547.4,299.3 537.6,292.0 524.5,302.6 506.0,303.0 502.9,306.9 491.8,300.3 485.2,310.2 479.9,318.1 462.8,323.3 458.2,332.5 441.8,344.3 430.0,345.7 416.0,354.5 406.8,358.5 391.0,358.5 389.7,353.9 375.2,351.9 369.3,357.2 356.8,346.6 345.0,344.0 335.6,339.5 323.8,329.6 322.4,325.0 306.7,315.2 301.4,313.2 289.6,294.8 279.1,296.1 274.6,292.0 258.0,349.0 241.8,414.2 237.8,415.5 232.6,421.4 224.0,432.6 213.5,431.2 206.9,438.9 189.2,435.2 180.0,437.8 172.5,439.7 167.3,430.5 156.8,441.6 144.9,441.0 140.3,437.7 125.2,439.0 123.9,443.0 105.5,441.6 100.3,439.7 Z" fill="#ffd8b6" stroke="none"/>
<g clip-path="url(#c1b)"><path d="M89.0,422.7 90.0,422.7 91.0,422.7 92.0,422.7 93.0,422.7 94.0,422.7 95.0,422.7 96.0,422.7 97.0,422.7 98.0,422.7 99.0,422.7 100.0,422.7 101.0,422.7 102.0,422.7 103.0,422.7 104.0,422.7 105.0,422.7 106.0,422.7 107.0,422.7 108.0,422.7 109.0,422.7 110.0,422.7 111.0,422.7 112.0,422.7 113.0,422.7 114.0,422.7 115.0,422.7 116.0,422.7 117.0,422.7 118.0,422.7 119.0,422.7 120.0,422.7 121.0,422.7 122.0,422.7 123.0,422.7 124.0,422.7 125.0,422.7 126.0,422.7 127.0,422.7 128.0,422.7 129.0,422.7 130.0,422.7 131.0,422.7 132.0,422.7 133.0,422.7 134.0,422.7 135.0,422.7 136.0,422.7 137.0,422.7 138.0,422.7 139.0,422.7 140.0,422.7 141.0,422.7 142.0,422.7 143.0,422.7 144.0,422.7 145.0,422.7 146.0,422.7 147.0,422.7 148.0,422.7 149.0,422.7 150.0,422.7 151.0,422.7 152.0,422.7 153.0,422.7 154.0,422.7 155.0,422.7 156.0,422.7 157.0,422.7 158.0,422.7 159.0,422.7 160.0,422.7 161.0,422.7 162.0,422.7 163.0,422.7 164.0,422.7 165.0,422.7 166.0,422.7 167.0,422.7 168.0,422.7 169.0,422.7 170.0,422.7 171.0,422.7 172.0,422.7 173.0,422.7 174.0,422.7 175.0,422.7 176.0,422.7 177.0,422.7 178.0,422.7 179.0,422.7 180.0,422.7 181.0,422.7 182.0,422.7 183.0,422.7 184.0,422.7 185.0,422.7 186.0,422.7 187.0,422.7 188.0,422.7 189.0,422.7 190.0,422.7 191.0,422.7 192.0,422.7 193.0,422.7 194.0,422.7 195.0,422.7 196.0,422.7 197.0,422.7 198.0,422.7 199.0,422.7 200.0,422.7 201.0,422.6 202.0,422.6 203.0,422.6 204.0,422.6 205.0,422.6 206.0,422.6 207.0,422.6 208.0,422.6 209.0,422.6 210.0,422.5 211.0,422.5 212.0,422.5 213.0,422.4 214.0,422.4 215.0,422.3 216.0,422.2 217.0,422.1 218.0,422.0 219.0,421.9 220.0,421.7 221.0,421.6 222.0,421.4 223.0,421.1 224.0,420.8 225.0,420.5 226.0,420.2 227.0,419.7 228.0,419.3 229.0,418.7 230.0,418.1 231.0,417.4 232.0,416.6 233.0,415.8 234.0,414.8 235.0,413.8 236.0,412.6 237.0,411.3 238.0,409.9 239.0,408.3 240.0,406.6 241.0,404.8 242.0,402.8 243.0,400.7 244.0,398.5 245.0,396.1 246.0,393.5 247.0,390.8 248.0,387.9 249.0,384.9 250.0,381.8 251.0,378.6 252.0,375.2 253.0,371.7 254.0,368.1 255.0,364.4 256.0,360.7 257.0,356.9 258.0,353.0 259.0,349.1 260.0,345.3 261.0,341.4 262.0,337.5 263.0,333.7 264.0,329.9 265.0,326.2 266.0,322.6 267.0,319.0 268.0,315.6 269.0,312.4 270.0,309.2 271.0,306.2 272.0,303.4 273.0,300.7 274.0,298.2 275.0,295.9 276.0,293.7 277.0,291.8 278.0,290.0 279.0,288.4 280.0,286.9 281.0,285.7 282.0,284.6 283.0,283.6 284.0,282.8 285.0,282.2 286.0,281.7 287.0,281.3 288.0,281.1 289.0,281.0 290.0,281.0 291.0,281.1 292.0,281.3 293.0,281.5 294.0,281.9 295.0,282.3 296.0,282.8 297.0,283.3 298.0,283.9 299.0,284.5 300.0,285.2 301.0,285.9 302.0,286.6 303.0,287.4 304.0,288.1 305.0,288.9 306.0,289.7 307.0,290.5 308.0,291.4 309.0,292.2 310.0,293.0 311.0,293.9 312.0,294.7 313.0,295.5 314.0,296.4 315.0,297.2 316.0,298.0 317.0,298.9 318.0,299.7 319.0,300.5 320.0,301.4 321.0,302.2 322.0,303.0 323.0,303.8 324.0,304.6 325.0,305.4 326.0,306.2 327.0,307.0 328.0,307.8 329.0,308.5 330.0,309.3 331.0,310.1 332.0,310.8 333.0,311.6 334.0,312.4 335.0,313.1 336.0,313.9 337.0,314.6 338.0,315.3 339.0,316.1 340.0,316.8 341.0,317.5 342.0,318.2 343.0,318.9 344.0,319.6 345.0,320.3 346.0,321.0 347.0,321.7 348.0,322.4 349.0,323.1 350.0,323.7 351.0,324.4 352.0,325.1 353.0,325.7 354.0,326.4 355.0,327.1 356.0,327.7 357.0,328.4 358.0,329.0 359.0,329.6 360.0,330.3 361.0,330.9 362.0,331.5 363.0,332.1 364.0,332.7 365.0,333.4 366.0,334.0 367.0,334.6 368.0,335.2 369.0,335.8 370.0,336.3 371.0,336.9 372.0,337.5 373.0,338.1 374.0,338.7 375.0,339.2 376.0,339.8 377.0,340.4 378.0,340.9 379.0,341.5 380.0,342.0 381.0,342.6 382.0,343.1 383.0,343.7 384.0,344.2 385.0,344.7 386.0,345.3 387.0,345.8 388.0,346.3 389.0,346.8 390.0,347.3 391.0,347.8 392.0,348.4 393.0,348.9 394.0,349.4 395.0,349.9 396.0,350.3 397.0,350.8 398.0,351.3 399.0,351.8 400.0,352.3 401.0,352.8 402.0,353.2 403.0,353.7 404.0,354.2 405.0,354.6 406.0,355.1 407.0,355.6 408.0,356.0 409.0,356.5 410.0,356.9 411.0,357.4 412.0,357.8 413.0,358.3 414.0,358.7 415.0,359.1 416.0,359.6 417.0,360.0 418.0,360.4 419.0,360.8 420.0,361.3 421.0,361.7 422.0,362.1 423.0,362.5 424.0,362.9 425.0,363.3 426.0,363.7 427.0,364.1 428.0,364.5 429.0,364.9 430.0,365.3 431.0,365.7 432.0,366.1 433.0,366.5 434.0,366.8 435.0,367.2 436.0,367.6 437.0,368.0 438.0,368.3 439.0,368.7 440.0,369.1 441.0,369.4 442.0,369.8 443.0,370.2 444.0,370.5 445.0,370.9 446.0,371.2 447.0,371.6 448.0,371.9 449.0,372.3 450.0,372.6 451.0,372.9 452.0,373.3 453.0,373.6 454.0,373.9 455.0,374.3 456.0,374.6 457.0,374.9 458.0,375.3 459.0,375.6 460.0,375.9 461.0,376.2 462.0,376.5 463.0,376.8 464.0,377.2 465.0,377.5 466.0,377.8 467.0,378.1 468.0,378.4 469.0,378.7 470.0,379.0 471.0,379.3 472.0,379.6 473.0,379.9 474.0,380.1 475.0,380.4 476.0,380.7 477.0,381.0 478.0,381.3 479.0,381.6 480.0,381.9 481.0,382.1 482.0,382.4 483.0,382.7 484.0,382.9 485.0,383.2 486.0,383.5 487.0,383.8 488.0,384.0 489.0,384.3 490.0,384.5 491.0,384.8 492.0,385.1 493.0,385.3 494.0,385.6 495.0,385.8 496.0,386.1 497.0,386.3 498.0,386.6 499.0,386.8 500.0,387.0 501.0,387.3 502.0,387.5 503.0,387.8 504.0,388.0 505.0,388.2 506.0,388.5 507.0,388.7 508.0,388.9 509.0,389.2 510.0,389.4 511.0,389.6 512.0,389.8 513.0,390.1 514.0,390.3 515.0,390.5 516.0,390.7 517.0,390.9 518.0,391.2 519.0,391.4 520.0,391.6 521.0,391.8 522.0,392.0 523.0,392.2 524.0,392.4 525.0,392.6 526.0,392.8 527.0,393.0 528.0,393.2 529.0,393.4 530.0,393.6 531.0,393.8 532.0,394.0 533.0,394.2 534.0,394.4 535.0,394.6 536.0,394.8 537.0,395.0 538.0,395.2 539.0,395.4 540.0,395.5 541.0,395.7 542.0,395.9 543.0,396.1 544.0,396.3 545.0,396.4 546.0,396.6 547.0,396.8 548.0,397.0 549.0,397.2 550.0,397.3 551.0,397.5 552.0,397.7 553.0,397.8 554.0,398.0 555.0,398.2 556.0,398.3 557.0,398.5 558.0,398.7 559.0,398.8 560.0,399.0 561.0,399.2 562.0,399.3 563.0,399.5 564.0,399.6 565.0,399.8 566.0,399.9 567.0,400.1 568.0,400.2 569.0,400.4 570.0,400.6 571.0,400.7 572.0,400.9 573.0,401.0 574.0,401.1 575.0,401.3 576.0,401.4 577.0,401.6 578.0,401.7 579.0,401.9 580.0,402.0 581.0,402.1 582.0,402.3 583.0,402.4 584.0,402.6 585.0,402.7 586.0,402.8 587.0,403.0 588.0,403.1 589.0,403.2 590.0,403.4 591.0,403.5 592.0,403.6 593.0,403.8 594.0,403.9 595.0,404.0 596.0,404.1 597.0,404.3 598.0,404.4 599.0,404.5 600.0,404.6 601.0,404.8 602.0,404.9 603.0,405.0 604.0,405.1 605.0,405.2 606.0,405.4 607.0,405.5 608.0,405.6 609.0,405.7 610.0,405.8 611.0,405.9 612.0,406.1 613.0,406.2 614.0,406.3 615.0,406.4 616.0,406.5 617.0,406.6 618.0,406.7 619.0,406.8 620.0,406.9 621.0,407.0 622.0,407.1 623.0,407.3 624.0,407.4 625.0,407.5 626.0,407.6 627.0,407.7 628.0,407.8 629.0,407.9 630.0,408.0 631.0,408.1 632.0,408.2 633.0,408.3 634.0,408.4 635.0,408.5 636.0,408.6 637.0,408.7 638.0,408.7 639.0,408.8 640.0,408.9 641.0,409.0 642.0,409.1 643.0,409.2 644.0,409.3 645.0,409.4 646.0,409.5 647.0,409.6 648.0,409.7 649.0,409.8 650.0,409.8 651.0,409.9 652.0,410.0 653.0,410.1 654.0,410.2 655.0,410.3 656.0,410.4 657.0,410.4 658.0,410.5 659.0,410.6 660.0,410.7 661.0,410.8 662.0,410.8 663.0,410.9 664.0,411.0 665.0,411.1 666.0,411.2 667.0,411.2 668.0,411.3 669.0,411.4 670.0,411.5 671.0,411.6 672.0,411.6 673.0,411.7 674.0,411.8 675.0,411.8 676.0,411.9 677.0,412.0 678.0,412.1 679.0,412.1 680.0,412.2 681.0,412.3" fill="none" stroke="#ff7f0e" stroke-width="3" stroke-dasharray="3 4.95"/><path d="M89.0,422.4 90.0,422.4 91.0,422.4 92.0,422.4 93.0,422.4 94.0,422.4 95.0,422.4 96.0,422.4 97.0,422.4 98.0,422.4 99.0,422.4 100.0,422.4 101.0,422.4 102.0,422.4 103.0,422.4 104.0,422.4 105.0,422.4 106.0,422.4 107.0,422.4 108.0,422.4 109.0,422.4 110.0,422.4 111.0,422.4 112.0,422.4 113.0,422.4 114.0,422.4 115.0,422.4 116.0,422.4 117.0,422.4 118.0,422.4 119.0,422.4 120.0,422.4 121.0,422.4 122.0,422.4 123.0,422.4 124.0,422.4 125.0,422.4 126.0,422.4 127.0,422.4 128.0,422.4 129.0,422.4 130.0,422.4 131.0,422.4 132.0,422.4 133.0,422.4 134.0,422.4 135.0,422.4 136.0,422.4 137.0,422.4 138.0,422.4 139.0,422.4 140.0,422.4 141.0,422.4 142.0,422.4 143.0,422.4 144.0,422.4 145.0,422.4 146.0,422.4 147.0,422.4 148.0,422.4 149.0,422.4 150.0,422.4 151.0,422.4 152.0,422.4 153.0,422.4 154.0,422.4 155.0,422.4 156.0,422.4 157.0,422.4 158.0,422.4 159.0,422.4 160.0,422.4 161.0,422.4 162.0,422.4 163.0,422.4 164.0,422.4 165.0,422.4 166.0,422.4 167.0,422.4 168.0,422.4 169.0,422.4 170.0,422.4 171.0,422.4 172.0,422.4 173.0,422.4 174.0,422.4 175.0,422.4 176.0,422.4 177.0,422.4 178.0,422.4 179.0,422.4 180.0,422.4 181.0,422.4 182.0,422.4 183.0,422.4 184.0,422.4 185.0,422.4 186.0,422.4 187.0,422.4 188.0,422.4 189.0,422.4 190.0,422.4 191.0,422.4 192.0,422.4 193.0,422.4 194.0,422.4 195.0,422.4 196.0,422.4 197.0,422.4 198.0,422.4 199.0,422.4 200.0,422.4 201.0,422.4 202.0,422.4 203.0,422.4 204.0,422.4 205.0,422.4 206.0,422.4 207.0,422.4 208.0,422.4 209.0,422.4 210.0,422.4 211.0,422.4 212.0,422.4 213.0,422.4 214.0,422.4 215.0,422.4 216.0,422.4 217.0,422.4 218.0,422.4 219.0,422.4 220.0,422.4 221.0,422.4 222.0,422.4 223.0,422.4 224.0,422.4 225.0,422.4 226.0,422.4 227.0,422.4 228.0,422.4 229.0,422.4 230.0,422.4 231.0,422.4 232.0,422.4 233.0,422.4 234.0,422.4 235.0,422.4 236.0,422.4 237.0,422.4 238.0,422.4 239.0,422.4 240.0,422.4 241.0,422.4 242.0,422.4 243.0,422.4 244.0,422.4 245.0,422.4 246.0,422.4 247.0,422.4 248.0,422.4 249.0,422.4 250.0,422.4 251.0,422.4 252.0,422.4 253.0,422.4 254.0,422.4 255.0,422.4 256.0,422.4 257.0,422.4 258.0,422.4 259.0,422.4 260.0,422.4 261.0,422.4 262.0,422.4 263.0,422.4 264.0,422.4 265.0,422.4 266.0,422.4 267.0,422.4 268.0,422.4 269.0,422.4 270.0,422.4 271.0,422.4 272.0,422.4 273.0,422.4 274.0,422.4 275.0,422.4 276.0,422.4 277.0,422.4 278.0,422.4 279.0,422.4 280.0,422.4 281.0,422.4 282.0,422.4 283.0,422.4 284.0,422.4 285.0,422.4 286.0,422.4 287.0,422.4 288.0,422.4 289.0,422.4 290.0,422.4 291.0,422.4 292.0,422.4 293.0,422.4 294.0,422.4 295.0,422.4 296.0,422.4 297.0,422.4 298.0,422.4 299.0,422.4 300.0,422.4 301.0,422.4 302.0,422.4 303.0,422.4 304.0,422.4 305.0,422.4 306.0,422.4 307.0,422.4 308.0,422.4 309.0,422.4 310.0,422.4 311.0,422.4 312.0,422.4 313.0,422.4 314.0,422.4 315.0,422.4 316.0,422.4 317.0,422.4 318.0,422.4 319.0,422.4 320.0,422.4 321.0,422.4 322.0,422.4 323.0,422.4 324.0,422.4 325.0,422.4 326.0,422.4 327.0,422.4 328.0,422.4 329.0,422.4 330.0,422.4 331.0,422.4 332.0,422.4 333.0,422.4 334.0,422.4 335.0,422.4 336.0,422.4 337.0,422.4 338.0,422.4 339.0,422.4 340.0,422.4 341.0,422.4 342.0,422.4 343.0,422.4 344.0,422.4 345.0,422.4 346.0,422.4 347.0,422.4 348.0,422.4 349.0,422.4 350.0,422.4 351.0,422.4 352.0,422.4 353.0,422.4 354.0,422.4 355.0,422.4 356.0,422.4 357.0,422.4 358.0,422.4 359.0,422.4 360.0,422.4 361.0,422.4 362.0,422.4 363.0,422.4 364.0,422.4 365.0,422.4 366.0,422.4 367.0,422.4 368.0,422.4 369.0,422.4 370.0,422.4 371.0,422.4 372.0,422.4 373.0,422.4 374.0,422.4 375.0,422.4 376.0,422.4 377.0,422.4 378.0,422.4 379.0,422.4 380.0,422.4 381.0,422.3 382.0,422.3 383.0,422.3 384.0,422.3 385.0,422.3 386.0,422.2 387.0,422.2 388.0,422.2 389.0,422.1 390.0,422.1 391.0,422.0 392.0,421.9 393.0,421.9 394.0,421.8 395.0,421.7 396.0,421.6 397.0,421.4 398.0,421.3 399.0,421.1 400.0,420.9 401.0,420.7 402.0,420.4 403.0,420.2 404.0,419.9 405.0,419.5 406.0,419.2 407.0,418.8 408.0,418.3 409.0,417.9 410.0,417.4 411.0,416.8 412.0,416.2 413.0,415.6 414.0,414.9 415.0,414.2 416.0,413.4 417.0,412.6 418.0,411.7 419.0,410.8 420.0,409.9 421.0,408.9 422.0,407.9 423.0,406.8 424.0,405.7 425.0,404.6 426.0,403.4 427.0,402.2 428.0,400.9 429.0,399.7 430.0,398.4 431.0,397.1 432.0,395.7 433.0,394.4 434.0,393.0 435.0,391.6 436.0,390.2 437.0,388.8 438.0,387.4 439.0,386.0 440.0,384.6 441.0,383.1 442.0,381.7 443.0,380.3 444.0,378.9 445.0,377.5 446.0,376.1 447.0,374.7 448.0,373.4 449.0,372.0 450.0,370.7 451.0,369.4 452.0,368.1 453.0,366.8 454.0,365.5 455.0,364.2 456.0,363.0 457.0,361.8 458.0,360.6 459.0,359.4 460.0,358.2 461.0,357.1 462.0,356.0 463.0,354.9 464.0,353.8 465.0,352.7 466.0,351.7 467.0,350.6 468.0,349.6 469.0,348.6 470.0,347.6 471.0,346.7 472.0,345.7 473.0,344.8 474.0,343.9 475.0,343.0 476.0,342.1 477.0,341.2 478.0,340.4 479.0,339.6 480.0,338.7 481.0,337.9 482.0,337.2 483.0,336.4 484.0,335.6 485.0,334.9 486.0,334.2 487.0,333.4 488.0,332.7 489.0,332.1 490.0,331.4 491.0,330.7 492.0,330.1 493.0,329.4 494.0,328.8 495.0,328.2 496.0,327.6 497.0,327.0 498.0,326.4 499.0,325.9 500.0,325.3 501.0,324.8 502.0,324.3 503.0,323.7 504.0,323.2 505.0,322.7 506.0,322.2 507.0,321.8 508.0,321.3 509.0,320.8 510.0,320.4 511.0,320.0 512.0,319.5 513.0,319.1 514.0,318.7 515.0,318.3 516.0,317.9 517.0,317.5 518.0,317.1 519.0,316.8 520.0,316.4 521.0,316.1 522.0,315.7 523.0,315.4 524.0,315.1 525.0,314.7 526.0,314.4 527.0,314.1 528.0,313.8 529.0,313.5 530.0,313.3 531.0,313.0 532.0,312.7 533.0,312.5 534.0,312.2 535.0,311.9 536.0,311.7 537.0,311.5 538.0,311.2 539.0,311.0 540.0,310.8 541.0,310.6 542.0,310.4 543.0,310.2 544.0,310.0 545.0,309.8 546.0,309.6 547.0,309.4 548.0,309.3 549.0,309.1 550.0,308.9 551.0,308.8 552.0,308.6 553.0,308.5 554.0,308.4 555.0,308.2 556.0,308.1 557.0,308.0 558.0,307.8 559.0,307.7 560.0,307.6 561.0,307.5 562.0,307.4 563.0,307.3 564.0,307.2 565.0,307.1 566.0,307.0 567.0,306.9 568.0,306.9 569.0,306.8 570.0,306.7 571.0,306.6 572.0,306.6 573.0,306.5 574.0,306.5 575.0,306.4 576.0,306.3 577.0,306.3 578.0,306.3 579.0,306.2 580.0,306.2 581.0,306.1 582.0,306.1 583.0,306.1 584.0,306.1 585.0,306.0 586.0,306.0 587.0,306.0 588.0,306.0 589.0,306.0 590.0,306.0 591.0,306.0 592.0,306.0 593.0,306.0 594.0,306.0 595.0,306.0 596.0,306.0 597.0,306.0 598.0,306.0 599.0,306.0 600.0,306.0 601.0,306.0 602.0,306.1 603.0,306.1 604.0,306.1 605.0,306.1 606.0,306.2 607.0,306.2 608.0,306.2 609.0,306.3 610.0,306.3 611.0,306.3 612.0,306.4 613.0,306.4 614.0,306.5 615.0,306.5 616.0,306.6 617.0,306.6 618.0,306.7 619.0,306.7 620.0,306.8 621.0,306.8 622.0,306.9 623.0,307.0 624.0,307.0 625.0,307.1 626.0,307.1 627.0,307.2 628.0,307.3 629.0,307.4 630.0,307.4 631.0,307.5 632.0,307.6 633.0,307.6 634.0,307.7 635.0,307.8 636.0,307.9 637.0,308.0 638.0,308.0 639.0,308.1 640.0,308.2 641.0,308.3 642.0,308.4 643.0,308.5 644.0,308.5 645.0,308.6 646.0,308.7 647.0,308.8 648.0,308.9 649.0,309.0 650.0,309.1 651.0,309.2 652.0,309.3 653.0,309.4 654.0,309.5 655.0,309.6 656.0,309.7 657.0,309.8 658.0,309.9 659.0,310.0 660.0,310.1 661.0,310.2 662.0,310.3 663.0,310.4 664.0,310.5 665.0,310.6 666.0,310.7 667.0,310.8 668.0,310.9 669.0,311.0 670.0,311.1 671.0,311.3 672.0,311.4 673.0,311.5 674.0,311.6 675.0,311.7 676.0,311.8 677.0,311.9 678.0,312.0 679.0,312.2 680.0,312.3 681.0,312.4" fill="none" stroke="#ff7f0e" stroke-width="3" stroke-dasharray="11.1 4.8" stroke-dashoffset="-0.8"/></g><g clip-path="url(#c1)"><path d="M89.0,422.7 90.0,422.7 91.0,422.7 92.0,422.7 93.0,422.7 94.0,422.7 95.0,422.7 96.0,422.7 97.0,422.7 98.0,422.7 99.0,422.7 100.0,422.7 101.0,422.7 102.0,422.7 103.0,422.7 104.0,422.7 105.0,422.7 106.0,422.7 107.0,422.7 108.0,422.7 109.0,422.7 110.0,422.7 111.0,422.7 112.0,422.7 113.0,422.7 114.0,422.7 115.0,422.7 116.0,422.7 117.0,422.7 118.0,422.7 119.0,422.7 120.0,422.7 121.0,422.7 122.0,422.7 123.0,422.7 124.0,422.7 125.0,422.7 126.0,422.7 127.0,422.7 128.0,422.7 129.0,422.7 130.0,422.7 131.0,422.7 132.0,422.7 133.0,422.7 134.0,422.7 135.0,422.7 136.0,422.7 137.0,422.7 138.0,422.7 139.0,422.7 140.0,422.7 141.0,422.7 142.0,422.7 143.0,422.7 144.0,422.7 145.0,422.7 146.0,422.7 147.0,422.7 148.0,422.7 149.0,422.7 150.0,422.7 151.0,422.7 152.0,422.7 153.0,422.7 154.0,422.7 155.0,422.7 156.0,422.7 157.0,422.7 158.0,422.7 159.0,422.7 160.0,422.7 161.0,422.7 162.0,422.7 163.0,422.7 164.0,422.7 165.0,422.7 166.0,422.7 167.0,422.7 168.0,422.7 169.0,422.7 170.0,422.7 171.0,422.7 172.0,422.7 173.0,422.7 174.0,422.7 175.0,422.7 176.0,422.7 177.0,422.7 178.0,422.7 179.0,422.7 180.0,422.7 181.0,422.7 182.0,422.7 183.0,422.7 184.0,422.7 185.0,422.7 186.0,422.7 187.0,422.7 188.0,422.7 189.0,422.7 190.0,422.7 191.0,422.7 192.0,422.7 193.0,422.7 194.0,422.7 195.0,422.7 196.0,422.7 197.0,422.7 198.0,422.7 199.0,422.7 200.0,422.7 201.0,422.7 202.0,422.7 203.0,422.7 204.0,422.7 205.0,422.6 206.0,422.6 207.0,422.6 208.0,422.6 209.0,422.6 210.0,422.6 211.0,422.5 212.0,422.5 213.0,422.5 214.0,422.4 215.0,422.3 216.0,422.3 217.0,422.2 218.0,422.1 219.0,421.9 220.0,421.8 221.0,421.6 222.0,421.4 223.0,421.2 224.0,420.9 225.0,420.6 226.0,420.2 227.0,419.8 228.0,419.3 229.0,418.8 230.0,418.2 231.0,417.5 232.0,416.7 233.0,415.9 234.0,414.9 235.0,413.9 236.0,412.7 237.0,411.4 238.0,410.0 239.0,408.5 240.0,406.8 241.0,405.0 242.0,403.0 243.0,400.9 244.0,398.6 245.0,396.2 246.0,393.7 247.0,391.0 248.0,388.1 249.0,385.1 250.0,382.0 251.0,378.7 252.0,375.3 253.0,371.8 254.0,368.3 255.0,364.6 256.0,360.8 257.0,357.0 258.0,353.2 259.0,349.3 260.0,345.4 261.0,341.5 262.0,337.6 263.0,333.8 264.0,330.0 265.0,326.3 266.0,322.6 267.0,319.1 268.0,315.7 269.0,312.4 270.0,309.3 271.0,306.3 272.0,303.4 273.0,300.8 274.0,298.3 275.0,295.9 276.0,293.8 277.0,291.8 278.0,290.0 279.0,288.4 280.0,287.0 281.0,285.7 282.0,284.6 283.0,283.7 284.0,282.9 285.0,282.3 286.0,281.8 287.0,281.4 288.0,281.2 289.0,281.1 290.0,281.1 291.0,281.2 292.0,281.3 293.0,281.6 294.0,282.0 295.0,282.4 296.0,282.9 297.0,283.4 298.0,284.0 299.0,284.6 300.0,285.3 301.0,286.0 302.0,286.7 303.0,287.4 304.0,288.2 305.0,289.0 306.0,289.8 307.0,290.6 308.0,291.4 309.0,292.2 310.0,293.1 311.0,293.9 312.0,294.7 313.0,295.6 314.0,296.4 315.0,297.2 316.0,298.1 317.0,298.9 318.0,299.7 319.0,300.5 320.0,301.3 321.0,302.2 322.0,303.0 323.0,303.8 324.0,304.6 325.0,305.4 326.0,306.2 327.0,306.9 328.0,307.7 329.0,308.5 330.0,309.3 331.0,310.0 332.0,310.8 333.0,311.5 334.0,312.3 335.0,313.0 336.0,313.8 337.0,314.5 338.0,315.2 339.0,316.0 340.0,316.7 341.0,317.4 342.0,318.1 343.0,318.8 344.0,319.5 345.0,320.2 346.0,320.9 347.0,321.6 348.0,322.3 349.0,323.0 350.0,323.6 351.0,324.3 352.0,325.0 353.0,325.6 354.0,326.3 355.0,326.9 356.0,327.6 357.0,328.2 358.0,328.8 359.0,329.5 360.0,330.1 361.0,330.7 362.0,331.4 363.0,332.0 364.0,332.6 365.0,333.2 366.0,333.8 367.0,334.4 368.0,335.0 369.0,335.6 370.0,336.2 371.0,336.7 372.0,337.3 373.0,337.9 374.0,338.5 375.0,339.0 376.0,339.6 377.0,340.1 378.0,340.7 379.0,341.2 380.0,341.7 381.0,342.3 382.0,342.8 383.0,343.3 384.0,343.8 385.0,344.3 386.0,344.8 387.0,345.3 388.0,345.8 389.0,346.2 390.0,346.7 391.0,347.1 392.0,347.6 393.0,348.0 394.0,348.4 395.0,348.8 396.0,349.1 397.0,349.5 398.0,349.8 399.0,350.1 400.0,350.4 401.0,350.7 402.0,350.9 403.0,351.1 404.0,351.3 405.0,351.4 406.0,351.5 407.0,351.6 408.0,351.7 409.0,351.7 410.0,351.6 411.0,351.6 412.0,351.5 413.0,351.3 414.0,351.1 415.0,350.9 416.0,350.6 417.0,350.3 418.0,349.9 419.0,349.5 420.0,349.0 421.0,348.5 422.0,348.0 423.0,347.4 424.0,346.8 425.0,346.1 426.0,345.5 427.0,344.7 428.0,344.0 429.0,343.2 430.0,342.3 431.0,341.5 432.0,340.6 433.0,339.7 434.0,338.7 435.0,337.7 436.0,336.8 437.0,335.8 438.0,334.7 439.0,333.7 440.0,332.7 441.0,331.6 442.0,330.6 443.0,329.5 444.0,328.5 445.0,327.4 446.0,326.3 447.0,325.3 448.0,324.2 449.0,323.2 450.0,322.1 451.0,321.1 452.0,320.1 453.0,319.1 454.0,318.1 455.0,317.1 456.0,316.1 457.0,315.2 458.0,314.2 459.0,313.3 460.0,312.4 461.0,311.5 462.0,310.6 463.0,309.8 464.0,308.9 465.0,308.1 466.0,307.3 467.0,306.5 468.0,305.7 469.0,305.0 470.0,304.2 471.0,303.5 472.0,302.8 473.0,302.1 474.0,301.5 475.0,300.8 476.0,300.2 477.0,299.5 478.0,298.9 479.0,298.3 480.0,297.8 481.0,297.2 482.0,296.7 483.0,296.1 484.0,295.6 485.0,295.1 486.0,294.6 487.0,294.1 488.0,293.7 489.0,293.2 490.0,292.8 491.0,292.4 492.0,291.9 493.0,291.5 494.0,291.2 495.0,290.8 496.0,290.4 497.0,290.1 498.0,289.7 499.0,289.4 500.0,289.1 501.0,288.8 502.0,288.5 503.0,288.2 504.0,287.9 505.0,287.6 506.0,287.4 507.0,287.1 508.0,286.9 509.0,286.6 510.0,286.4 511.0,286.2 512.0,286.0 513.0,285.8 514.0,285.6 515.0,285.4 516.0,285.2 517.0,285.1 518.0,284.9 519.0,284.8 520.0,284.6 521.0,284.5 522.0,284.4 523.0,284.2 524.0,284.1 525.0,284.0 526.0,283.9 527.0,283.8 528.0,283.7 529.0,283.7 530.0,283.6 531.0,283.5 532.0,283.4 533.0,283.4 534.0,283.3 535.0,283.3 536.0,283.2 537.0,283.2 538.0,283.2 539.0,283.2 540.0,283.1 541.0,283.1 542.0,283.1 543.0,283.1 544.0,283.1 545.0,283.1 546.0,283.1 547.0,283.1 548.0,283.1 549.0,283.2 550.0,283.2 551.0,283.2 552.0,283.2 553.0,283.3 554.0,283.3 555.0,283.4 556.0,283.4 557.0,283.5 558.0,283.5 559.0,283.6 560.0,283.6 561.0,283.7 562.0,283.8 563.0,283.8 564.0,283.9 565.0,284.0 566.0,284.1 567.0,284.2 568.0,284.2 569.0,284.3 570.0,284.4 571.0,284.5 572.0,284.6 573.0,284.7 574.0,284.8 575.0,284.9 576.0,285.0 577.0,285.1 578.0,285.3 579.0,285.4 580.0,285.5 581.0,285.6 582.0,285.7 583.0,285.8 584.0,286.0 585.0,286.1 586.0,286.2 587.0,286.4 588.0,286.5 589.0,286.6 590.0,286.8 591.0,286.9 592.0,287.0 593.0,287.2 594.0,287.3 595.0,287.5 596.0,287.6 597.0,287.7 598.0,287.9 599.0,288.0 600.0,288.2 601.0,288.3 602.0,288.5 603.0,288.7 604.0,288.8 605.0,289.0 606.0,289.1 607.0,289.3 608.0,289.4 609.0,289.6 610.0,289.8 611.0,289.9 612.0,290.1 613.0,290.3 614.0,290.4 615.0,290.6 616.0,290.8 617.0,290.9 618.0,291.1 619.0,291.3 620.0,291.4 621.0,291.6 622.0,291.8 623.0,292.0 624.0,292.1 625.0,292.3 626.0,292.5 627.0,292.7 628.0,292.8 629.0,293.0 630.0,293.2 631.0,293.4 632.0,293.6 633.0,293.7 634.0,293.9 635.0,294.1 636.0,294.3 637.0,294.5 638.0,294.6 639.0,294.8 640.0,295.0 641.0,295.2 642.0,295.4 643.0,295.6 644.0,295.7 645.0,295.9 646.0,296.1 647.0,296.3 648.0,296.5 649.0,296.7 650.0,296.9 651.0,297.0 652.0,297.2 653.0,297.4 654.0,297.6 655.0,297.8 656.0,298.0 657.0,298.2 658.0,298.4 659.0,298.5 660.0,298.7 661.0,298.9 662.0,299.1 663.0,299.3 664.0,299.5 665.0,299.7 666.0,299.9 667.0,300.1 668.0,300.2 669.0,300.4 670.0,300.6 671.0,300.8 672.0,301.0 673.0,301.2 674.0,301.4 675.0,301.6 676.0,301.8 677.0,301.9 678.0,302.1 679.0,302.3 680.0,302.5 681.0,302.7" fill="none" stroke="#ff7f0e" stroke-width="5.0" stroke-linejoin="round"/></g>
<circle cx="100.9" cy="426.5" r="4" fill="#ff7f0e"/><circle cx="106.8" cy="428.9" r="4" fill="#ff7f0e"/><circle cx="123.9" cy="428.9" r="4" fill="#ff7f0e"/><circle cx="140.3" cy="424.6" r="4" fill="#ff7f0e"/><circle cx="147.3" cy="428.5" r="4" fill="#ff7f0e"/><circle cx="157.8" cy="427.8" r="4" fill="#ff7f0e"/><circle cx="169.9" cy="414.7" r="4" fill="#ff7f0e"/><circle cx="174.9" cy="426.3" r="4" fill="#ff7f0e"/><circle cx="191.8" cy="421.0" r="4" fill="#ff7f0e"/><circle cx="208.9" cy="424.7" r="4" fill="#ff7f0e"/><circle cx="215.5" cy="417.0" r="4" fill="#ff7f0e"/><circle cx="226.0" cy="418.1" r="4" fill="#ff7f0e"/><circle cx="239.1" cy="401.0" r="4" fill="#ff7f0e"/><circle cx="244.4" cy="401.0" r="4" fill="#ff7f0e"/><circle cx="260.5" cy="333.6" r="4" fill="#ff7f0e"/><circle cx="277.1" cy="279.0" r="4" fill="#ff7f0e"/><circle cx="283.7" cy="283.6" r="4" fill="#ff7f0e"/><circle cx="294.2" cy="279.7" r="4" fill="#ff7f0e"/><circle cx="306.0" cy="300.0" r="4" fill="#ff7f0e"/><circle cx="311.3" cy="302.0" r="4" fill="#ff7f0e"/><circle cx="327.7" cy="312.5" r="4" fill="#ff7f0e"/><circle cx="329.0" cy="317.1" r="4" fill="#ff7f0e"/><circle cx="344.8" cy="329.0" r="4" fill="#ff7f0e"/><circle cx="351.6" cy="330.9" r="4" fill="#ff7f0e"/><circle cx="362.1" cy="332.8" r="4" fill="#ff7f0e"/><circle cx="374.6" cy="343.4" r="4" fill="#ff7f0e"/><circle cx="379.8" cy="337.4" r="4" fill="#ff7f0e"/><circle cx="396.2" cy="340.1" r="4" fill="#ff7f0e"/><circle cx="397.6" cy="344.7" r="4" fill="#ff7f0e"/><circle cx="403.2" cy="353.2" r="4" fill="#ff7f0e"/><circle cx="413.3" cy="344.7" r="4" fill="#ff7f0e"/><circle cx="419.9" cy="348.6" r="4" fill="#ff7f0e"/><circle cx="430.4" cy="330.2" r="4" fill="#ff7f0e"/><circle cx="443.1" cy="331.2" r="4" fill="#ff7f0e"/><circle cx="449.1" cy="330.9" r="4" fill="#ff7f0e"/><circle cx="464.8" cy="304.9" r="4" fill="#ff7f0e"/><circle cx="465.5" cy="318.7" r="4" fill="#ff7f0e"/><circle cx="481.9" cy="303.0" r="4" fill="#ff7f0e"/><circle cx="488.5" cy="304.3" r="4" fill="#ff7f0e"/><circle cx="499.0" cy="283.2" r="4" fill="#ff7f0e"/><circle cx="511.5" cy="293.1" r="4" fill="#ff7f0e"/><circle cx="516.1" cy="279.3" r="4" fill="#ff7f0e"/><circle cx="533.0" cy="276.3" r="4" fill="#ff7f0e"/><circle cx="533.6" cy="289.2" r="4" fill="#ff7f0e"/><circle cx="550.1" cy="275.6" r="4" fill="#ff7f0e"/><circle cx="556.6" cy="285.5" r="4" fill="#ff7f0e"/><circle cx="567.2" cy="271.7" r="4" fill="#ff7f0e"/><circle cx="579.6" cy="293.6" r="4" fill="#ff7f0e"/><circle cx="584.2" cy="283.5" r="4" fill="#ff7f0e"/><circle cx="601.5" cy="289.5" r="4" fill="#ff7f0e"/><circle cx="602.0" cy="300.8" r="4" fill="#ff7f0e"/><circle cx="618.4" cy="281.0" r="4" fill="#ff7f0e"/><circle cx="625.1" cy="290.7" r="4" fill="#ff7f0e"/><circle cx="635.5" cy="283.6" r="4" fill="#ff7f0e"/><circle cx="647.3" cy="298.4" r="4" fill="#ff7f0e"/><circle cx="670.6" cy="298.7" r="4" fill="#ff7f0e"/>
<clipPath id="c2"><rect x="89.0" y="503.8" width="592.6" height="201.49999999999994"/></clipPath>
<clipPath id="c2b"><rect x="89.0" y="503.8" width="587.5" height="201.49999999999994"/></clipPath>
<path d="M102.5,679.5 106.7,680.7 123.0,680.3 140.6,677.2 146.9,680.7 157.6,677.9 169.8,676.0 174.9,677.9 192.6,676.7 208.3,676.0 215.3,674.2 226.3,669.0 237.5,658.5 241.7,644.5 260.6,571.5 276.5,521.4 283.8,520.1 293.6,529.3 306.8,553.0 310.7,551.7 328.7,569.6 329.2,578.0 344.7,589.8 351.8,595.5 362.3,600.3 374.2,610.8 379.9,607.6 396.5,610.8 397.3,616.6 413.6,614.7 420.1,622.6 430.7,616.0 443.0,626.6 447.7,625.2 464.8,622.6 467.4,629.2 481.9,629.2 488.5,631.8 499.0,627.9 510.8,632.3 516.1,629.7 533.4,632.1 550.2,628.7 557.0,632.1 567.3,630.0 579.4,633.4 583.8,632.1 602.2,634.7 618.0,629.5 625.3,632.1 635.1,630.8 647.7,633.9 670.0,635.5 670.0,647.5 647.7,645.9 635.1,642.8 625.3,644.1 618.0,641.5 602.2,646.7 583.8,644.1 579.4,645.4 567.3,642.0 557.0,644.1 550.2,640.7 533.4,644.1 516.1,641.7 510.8,644.3 499.0,639.9 488.5,643.8 481.9,641.2 467.4,641.2 464.8,634.6 447.7,637.2 443.0,638.6 430.7,628.0 420.1,634.6 413.6,626.7 397.3,628.6 396.5,622.8 379.9,619.6 374.2,622.8 362.3,612.3 351.8,607.5 344.7,601.8 329.2,590.0 328.7,581.6 310.7,563.7 306.8,565.0 293.6,541.3 283.8,532.1 276.5,533.4 260.6,583.5 241.7,656.5 237.5,670.5 226.3,681.0 215.3,686.2 208.3,688.0 192.6,688.7 174.9,689.9 169.8,688.0 157.6,689.9 146.9,692.7 140.6,689.2 123.0,692.3 106.7,692.7 102.5,691.5 Z" fill="#c0e2c0" stroke="none"/>
<g clip-path="url(#c2b)"><path d="M89.0,683.5 90.0,683.5 91.0,683.5 92.0,683.5 93.0,683.5 94.0,683.5 95.0,683.5 96.0,683.5 97.0,683.5 98.0,683.5 99.0,683.5 100.0,683.5 101.0,683.5 102.0,683.5 103.0,683.5 104.0,683.5 105.0,683.5 106.0,683.5 107.0,683.5 108.0,683.5 109.0,683.5 110.0,683.5 111.0,683.5 112.0,683.5 113.0,683.5 114.0,683.5 115.0,683.5 116.0,683.5 117.0,683.5 118.0,683.5 119.0,683.5 120.0,683.5 121.0,683.5 122.0,683.5 123.0,683.5 124.0,683.5 125.0,683.5 126.0,683.5 127.0,683.5 128.0,683.5 129.0,683.5 130.0,683.5 131.0,683.5 132.0,683.5 133.0,683.5 134.0,683.5 135.0,683.5 136.0,683.5 137.0,683.5 138.0,683.5 139.0,683.5 140.0,683.5 141.0,683.5 142.0,683.5 143.0,683.5 144.0,683.5 145.0,683.5 146.0,683.5 147.0,683.5 148.0,683.5 149.0,683.5 150.0,683.5 151.0,683.5 152.0,683.5 153.0,683.5 154.0,683.5 155.0,683.5 156.0,683.5 157.0,683.5 158.0,683.5 159.0,683.5 160.0,683.5 161.0,683.5 162.0,683.5 163.0,683.5 164.0,683.5 165.0,683.5 166.0,683.5 167.0,683.5 168.0,683.5 169.0,683.5 170.0,683.5 171.0,683.5 172.0,683.5 173.0,683.5 174.0,683.5 175.0,683.5 176.0,683.5 177.0,683.5 178.0,683.5 179.0,683.5 180.0,683.5 181.0,683.5 182.0,683.5 183.0,683.5 184.0,683.5 185.0,683.5 186.0,683.5 187.0,683.5 188.0,683.5 189.0,683.5 190.0,683.5 191.0,683.5 192.0,683.5 193.0,683.5 194.0,683.5 195.0,683.5 196.0,683.5 197.0,683.5 198.0,683.5 199.0,683.5 200.0,683.5 201.0,683.5 202.0,683.5 203.0,683.5 204.0,683.5 205.0,683.5 206.0,683.5 207.0,683.5 208.0,683.4 209.0,683.4 210.0,683.4 211.0,683.3 212.0,683.3 213.0,683.2 214.0,683.2 215.0,683.1 216.0,683.0 217.0,682.9 218.0,682.7 219.0,682.6 220.0,682.4 221.0,682.1 222.0,681.9 223.0,681.6 224.0,681.2 225.0,680.8 226.0,680.3 227.0,679.8 228.0,679.2 229.0,678.5 230.0,677.7 231.0,676.8 232.0,675.8 233.0,674.6 234.0,673.4 235.0,672.0 236.0,670.5 237.0,668.8 238.0,666.9 239.0,664.9 240.0,662.7 241.0,660.4 242.0,657.8 243.0,655.1 244.0,652.2 245.0,649.1 246.0,645.8 247.0,642.3 248.0,638.6 249.0,634.8 250.0,630.8 251.0,626.7 252.0,622.4 253.0,618.0 254.0,613.5 255.0,609.0 256.0,604.3 257.0,599.6 258.0,594.9 259.0,590.2 260.0,585.5 261.0,580.9 262.0,576.3 263.0,571.8 264.0,567.5 265.0,563.3 266.0,559.2 267.0,555.3 268.0,551.7 269.0,548.2 270.0,544.9 271.0,541.9 272.0,539.2 273.0,536.7 274.0,534.5 275.0,532.5 276.0,530.8 277.0,529.4 278.0,528.2 279.0,527.3 280.0,526.6 281.0,526.2 282.0,526.0 283.0,526.1 284.0,526.4 285.0,526.8 286.0,527.5 287.0,528.3 288.0,529.3 289.0,530.4 290.0,531.7 291.0,533.1 292.0,534.6 293.0,536.2 294.0,537.9 295.0,539.6 296.0,541.5 297.0,543.3 298.0,545.2 299.0,547.2 300.0,549.2 301.0,551.1 302.0,553.1 303.0,555.2 304.0,557.2 305.0,559.2 306.0,561.2 307.0,563.1 308.0,565.1 309.0,567.1 310.0,569.0 311.0,570.9 312.0,572.8 313.0,574.7 314.0,576.5 315.0,578.3 316.0,580.1 317.0,581.9 318.0,583.6 319.0,585.3 320.0,587.0 321.0,588.7 322.0,590.3 323.0,591.9 324.0,593.5 325.0,595.0 326.0,596.6 327.0,598.0 328.0,599.5 329.0,601.0 330.0,602.4 331.0,603.8 332.0,605.2 333.0,606.5 334.0,607.8 335.0,609.1 336.0,610.4 337.0,611.7 338.0,612.9 339.0,614.1 340.0,615.3 341.0,616.5 342.0,617.7 343.0,618.8 344.0,619.9 345.0,621.0 346.0,622.1 347.0,623.1 348.0,624.2 349.0,625.2 350.0,626.2 351.0,627.2 352.0,628.2 353.0,629.1 354.0,630.1 355.0,631.0 356.0,631.9 357.0,632.8 358.0,633.6 359.0,634.5 360.0,635.3 361.0,636.2 362.0,637.0 363.0,637.8 364.0,638.6 365.0,639.4 366.0,640.1 367.0,640.9 368.0,641.6 369.0,642.3 370.0,643.0 371.0,643.7 372.0,644.4 373.0,645.1 374.0,645.8 375.0,646.4 376.0,647.0 377.0,647.7 378.0,648.3 379.0,648.9 380.0,649.5 381.0,650.1 382.0,650.7 383.0,651.2 384.0,651.8 385.0,652.3 386.0,652.9 387.0,653.4 388.0,653.9 389.0,654.4 390.0,654.9 391.0,655.4 392.0,655.9 393.0,656.4 394.0,656.8 395.0,657.3 396.0,657.8 397.0,658.2 398.0,658.6 399.0,659.1 400.0,659.5 401.0,659.9 402.0,660.3 403.0,660.7 404.0,661.1 405.0,661.5 406.0,661.9 407.0,662.2 408.0,662.6 409.0,663.0 410.0,663.3 411.0,663.7 412.0,664.0 413.0,664.3 414.0,664.7 415.0,665.0 416.0,665.3 417.0,665.6 418.0,665.9 419.0,666.2 420.0,666.5 421.0,666.8 422.0,667.1 423.0,667.4 424.0,667.7 425.0,668.0 426.0,668.2 427.0,668.5 428.0,668.8 429.0,669.0 430.0,669.3 431.0,669.5 432.0,669.7 433.0,670.0 434.0,670.2 435.0,670.4 436.0,670.7 437.0,670.9 438.0,671.1 439.0,671.3 440.0,671.5 441.0,671.7 442.0,671.9 443.0,672.1 444.0,672.3 445.0,672.5 446.0,672.7 447.0,672.9 448.0,673.1 449.0,673.3 450.0,673.5 451.0,673.6 452.0,673.8 453.0,674.0 454.0,674.1 455.0,674.3 456.0,674.5 457.0,674.6 458.0,674.8 459.0,674.9 460.0,675.1 461.0,675.2 462.0,675.4 463.0,675.5 464.0,675.6 465.0,675.8 466.0,675.9 467.0,676.0 468.0,676.2 469.0,676.3 470.0,676.4 471.0,676.5 472.0,676.7 473.0,676.8 474.0,676.9 475.0,677.0 476.0,677.1 477.0,677.2 478.0,677.3 479.0,677.4 480.0,677.6 481.0,677.7 482.0,677.8 483.0,677.9 484.0,678.0 485.0,678.1 486.0,678.1 487.0,678.2 488.0,678.3 489.0,678.4 490.0,678.5 491.0,678.6 492.0,678.7 493.0,678.8 494.0,678.8 495.0,678.9 496.0,679.0 497.0,679.1 498.0,679.2 499.0,679.2 500.0,679.3 501.0,679.4 502.0,679.5 503.0,679.5 504.0,679.6 505.0,679.7 506.0,679.7 507.0,679.8 508.0,679.9 509.0,679.9 510.0,680.0 511.0,680.0 512.0,680.1 513.0,680.2 514.0,680.2 515.0,680.3 516.0,680.3 517.0,680.4 518.0,680.4 519.0,680.5 520.0,680.6 521.0,680.6 522.0,680.7 523.0,680.7 524.0,680.8 525.0,680.8 526.0,680.9 527.0,680.9 528.0,680.9 529.0,681.0 530.0,681.0 531.0,681.1 532.0,681.1 533.0,681.2 534.0,681.2 535.0,681.2 536.0,681.3 537.0,681.3 538.0,681.4 539.0,681.4 540.0,681.4 541.0,681.5 542.0,681.5 543.0,681.5 544.0,681.6 545.0,681.6 546.0,681.6 547.0,681.7 548.0,681.7 549.0,681.7 550.0,681.8 551.0,681.8 552.0,681.8 553.0,681.9 554.0,681.9 555.0,681.9 556.0,681.9 557.0,682.0 558.0,682.0 559.0,682.0 560.0,682.1 561.0,682.1 562.0,682.1 563.0,682.1 564.0,682.2 565.0,682.2 566.0,682.2 567.0,682.2 568.0,682.2 569.0,682.3 570.0,682.3 571.0,682.3 572.0,682.3 573.0,682.4 574.0,682.4 575.0,682.4 576.0,682.4 577.0,682.4 578.0,682.5 579.0,682.5 580.0,682.5 581.0,682.5 582.0,682.5 583.0,682.5 584.0,682.6 585.0,682.6 586.0,682.6 587.0,682.6 588.0,682.6 589.0,682.6 590.0,682.7 591.0,682.7 592.0,682.7 593.0,682.7 594.0,682.7 595.0,682.7 596.0,682.7 597.0,682.8 598.0,682.8 599.0,682.8 600.0,682.8 601.0,682.8 602.0,682.8 603.0,682.8 604.0,682.9 605.0,682.9 606.0,682.9 607.0,682.9 608.0,682.9 609.0,682.9 610.0,682.9 611.0,682.9 612.0,682.9 613.0,683.0 614.0,683.0 615.0,683.0 616.0,683.0 617.0,683.0 618.0,683.0 619.0,683.0 620.0,683.0 621.0,683.0 622.0,683.0 623.0,683.0 624.0,683.1 625.0,683.1 626.0,683.1 627.0,683.1 628.0,683.1 629.0,683.1 630.0,683.1 631.0,683.1 632.0,683.1 633.0,683.1 634.0,683.1 635.0,683.1 636.0,683.1 637.0,683.2 638.0,683.2 639.0,683.2 640.0,683.2 641.0,683.2 642.0,683.2 643.0,683.2 644.0,683.2 645.0,683.2 646.0,683.2 647.0,683.2 648.0,683.2 649.0,683.2 650.0,683.2 651.0,683.2 652.0,683.2 653.0,683.2 654.0,683.3 655.0,683.3 656.0,683.3 657.0,683.3 658.0,683.3 659.0,683.3 660.0,683.3 661.0,683.3 662.0,683.3 663.0,683.3 664.0,683.3 665.0,683.3 666.0,683.3 667.0,683.3 668.0,683.3 669.0,683.3 670.0,683.3 671.0,683.3 672.0,683.3 673.0,683.3 674.0,683.3 675.0,683.3 676.0,683.3 677.0,683.4 678.0,683.4 679.0,683.4 680.0,683.4 681.0,683.4" fill="none" stroke="#2ca02c" stroke-width="3" stroke-dasharray="3 4.95"/><path d="M89.0,683.0 90.0,683.0 91.0,683.0 92.0,683.0 93.0,683.0 94.0,683.0 95.0,683.0 96.0,683.0 97.0,683.0 98.0,683.0 99.0,683.0 100.0,683.0 101.0,683.0 102.0,683.0 103.0,683.0 104.0,683.0 105.0,683.0 106.0,683.0 107.0,683.0 108.0,683.0 109.0,683.0 110.0,683.0 111.0,683.0 112.0,683.0 113.0,683.0 114.0,683.0 115.0,683.0 116.0,683.0 117.0,683.0 118.0,683.0 119.0,683.0 120.0,683.0 121.0,683.0 122.0,683.0 123.0,683.0 124.0,683.0 125.0,683.0 126.0,683.0 127.0,683.0 128.0,683.0 129.0,683.0 130.0,683.0 131.0,683.0 132.0,683.0 133.0,683.0 134.0,683.0 135.0,683.0 136.0,683.0 137.0,683.0 138.0,683.0 139.0,683.0 140.0,683.0 141.0,683.0 142.0,683.0 143.0,683.0 144.0,683.0 145.0,683.0 146.0,683.0 147.0,683.0 148.0,683.0 149.0,683.0 150.0,683.0 151.0,683.0 152.0,683.0 153.0,683.0 154.0,683.0 155.0,683.0 156.0,683.0 157.0,683.0 158.0,683.0 159.0,683.0 160.0,683.0 161.0,683.0 162.0,683.0 163.0,683.0 164.0,683.0 165.0,683.0 166.0,683.0 167.0,683.0 168.0,683.0 169.0,683.0 170.0,683.0 171.0,683.0 172.0,683.0 173.0,683.0 174.0,683.0 175.0,683.0 176.0,683.0 177.0,683.0 178.0,683.0 179.0,683.0 180.0,683.0 181.0,683.0 182.0,683.0 183.0,683.0 184.0,683.0 185.0,683.0 186.0,683.0 187.0,683.0 188.0,683.0 189.0,683.0 190.0,683.0 191.0,683.0 192.0,683.0 193.0,683.0 194.0,683.0 195.0,683.0 196.0,683.0 197.0,683.0 198.0,683.0 199.0,683.0 200.0,683.0 201.0,683.0 202.0,683.0 203.0,683.0 204.0,683.0 205.0,683.0 206.0,683.0 207.0,683.0 208.0,683.0 209.0,683.0 210.0,683.0 211.0,683.0 212.0,683.0 213.0,683.0 214.0,683.0 215.0,683.0 216.0,683.0 217.0,683.0 218.0,683.0 219.0,683.0 220.0,683.0 221.0,683.0 222.0,683.0 223.0,683.0 224.0,683.0 225.0,683.0 226.0,683.0 227.0,683.0 228.0,683.0 229.0,683.0 230.0,683.0 231.0,683.0 232.0,683.0 233.0,683.0 234.0,683.0 235.0,683.0 236.0,683.0 237.0,683.0 238.0,683.0 239.0,683.0 240.0,683.0 241.0,683.0 242.0,683.0 243.0,683.0 244.0,683.0 245.0,683.0 246.0,683.0 247.0,683.0 248.0,683.0 249.0,683.0 250.0,683.0 251.0,683.0 252.0,683.0 253.0,682.9 254.0,682.9 255.0,682.9 256.0,682.9 257.0,682.9 258.0,682.9 259.0,682.9 260.0,682.8 261.0,682.8 262.0,682.8 263.0,682.7 264.0,682.7 265.0,682.7 266.0,682.6 267.0,682.6 268.0,682.5 269.0,682.5 270.0,682.4 271.0,682.4 272.0,682.3 273.0,682.2 274.0,682.1 275.0,682.0 276.0,681.9 277.0,681.8 278.0,681.7 279.0,681.6 280.0,681.4 281.0,681.3 282.0,681.1 283.0,681.0 284.0,680.8 285.0,680.6 286.0,680.4 287.0,680.2 288.0,680.0 289.0,679.8 290.0,679.6 291.0,679.3 292.0,679.0 293.0,678.8 294.0,678.5 295.0,678.2 296.0,677.9 297.0,677.6 298.0,677.3 299.0,677.0 300.0,676.6 301.0,676.3 302.0,675.9 303.0,675.6 304.0,675.2 305.0,674.8 306.0,674.4 307.0,674.1 308.0,673.7 309.0,673.3 310.0,672.9 311.0,672.4 312.0,672.0 313.0,671.6 314.0,671.2 315.0,670.8 316.0,670.3 317.0,669.9 318.0,669.5 319.0,669.0 320.0,668.6 321.0,668.2 322.0,667.7 323.0,667.3 324.0,666.9 325.0,666.5 326.0,666.0 327.0,665.6 328.0,665.2 329.0,664.8 330.0,664.3 331.0,663.9 332.0,663.5 333.0,663.1 334.0,662.7 335.0,662.3 336.0,661.9 337.0,661.5 338.0,661.1 339.0,660.7 340.0,660.4 341.0,660.0 342.0,659.6 343.0,659.2 344.0,658.9 345.0,658.5 346.0,658.2 347.0,657.8 348.0,657.5 349.0,657.1 350.0,656.8 351.0,656.5 352.0,656.1 353.0,655.8 354.0,655.5 355.0,655.2 356.0,654.9 357.0,654.6 358.0,654.2 359.0,653.9 360.0,653.7 361.0,653.4 362.0,653.1 363.0,652.8 364.0,652.5 365.0,652.2 366.0,652.0 367.0,651.7 368.0,651.4 369.0,651.2 370.0,650.9 371.0,650.7 372.0,650.4 373.0,650.2 374.0,649.9 375.0,649.7 376.0,649.5 377.0,649.2 378.0,649.0 379.0,648.8 380.0,648.6 381.0,648.3 382.0,648.1 383.0,647.9 384.0,647.7 385.0,647.5 386.0,647.3 387.0,647.1 388.0,646.9 389.0,646.7 390.0,646.5 391.0,646.3 392.0,646.1 393.0,646.0 394.0,645.8 395.0,645.6 396.0,645.4 397.0,645.3 398.0,645.1 399.0,644.9 400.0,644.8 401.0,644.6 402.0,644.4 403.0,644.3 404.0,644.1 405.0,644.0 406.0,643.8 407.0,643.7 408.0,643.5 409.0,643.4 410.0,643.3 411.0,643.1 412.0,643.0 413.0,642.9 414.0,642.7 415.0,642.6 416.0,642.5 417.0,642.4 418.0,642.2 419.0,642.1 420.0,642.0 421.0,641.9 422.0,641.8 423.0,641.7 424.0,641.6 425.0,641.5 426.0,641.4 427.0,641.3 428.0,641.2 429.0,641.1 430.0,641.0 431.0,640.9 432.0,640.8 433.0,640.7 434.0,640.6 435.0,640.5 436.0,640.4 437.0,640.3 438.0,640.2 439.0,640.2 440.0,640.1 441.0,640.0 442.0,639.9 443.0,639.9 444.0,639.8 445.0,639.7 446.0,639.6 447.0,639.6 448.0,639.5 449.0,639.4 450.0,639.4 451.0,639.3 452.0,639.3 453.0,639.2 454.0,639.1 455.0,639.1 456.0,639.0 457.0,639.0 458.0,638.9 459.0,638.9 460.0,638.8 461.0,638.8 462.0,638.7 463.0,638.7 464.0,638.6 465.0,638.6 466.0,638.5 467.0,638.5 468.0,638.5 469.0,638.4 470.0,638.4 471.0,638.3 472.0,638.3 473.0,638.3 474.0,638.2 475.0,638.2 476.0,638.2 477.0,638.1 478.0,638.1 479.0,638.1 480.0,638.1 481.0,638.0 482.0,638.0 483.0,638.0 484.0,638.0 485.0,637.9 486.0,637.9 487.0,637.9 488.0,637.9 489.0,637.8 490.0,637.8 491.0,637.8 492.0,637.8 493.0,637.8 494.0,637.8 495.0,637.8 496.0,637.7 497.0,637.7 498.0,637.7 499.0,637.7 500.0,637.7 501.0,637.7 502.0,637.7 503.0,637.7 504.0,637.7 505.0,637.7 506.0,637.7 507.0,637.7 508.0,637.7 509.0,637.6 510.0,637.6 511.0,637.6 512.0,637.6 513.0,637.6 514.0,637.6 515.0,637.6 516.0,637.6 517.0,637.7 518.0,637.7 519.0,637.7 520.0,637.7 521.0,637.7 522.0,637.7 523.0,637.7 524.0,637.7 525.0,637.7 526.0,637.7 527.0,637.7 528.0,637.7 529.0,637.7 530.0,637.7 531.0,637.8 532.0,637.8 533.0,637.8 534.0,637.8 535.0,637.8 536.0,637.8 537.0,637.8 538.0,637.8 539.0,637.9 540.0,637.9 541.0,637.9 542.0,637.9 543.0,637.9 544.0,637.9 545.0,638.0 546.0,638.0 547.0,638.0 548.0,638.0 549.0,638.0 550.0,638.1 551.0,638.1 552.0,638.1 553.0,638.1 554.0,638.1 555.0,638.2 556.0,638.2 557.0,638.2 558.0,638.2 559.0,638.3 560.0,638.3 561.0,638.3 562.0,638.3 563.0,638.3 564.0,638.4 565.0,638.4 566.0,638.4 567.0,638.5 568.0,638.5 569.0,638.5 570.0,638.5 571.0,638.6 572.0,638.6 573.0,638.6 574.0,638.6 575.0,638.7 576.0,638.7 577.0,638.7 578.0,638.8 579.0,638.8 580.0,638.8 581.0,638.9 582.0,638.9 583.0,638.9 584.0,638.9 585.0,639.0 586.0,639.0 587.0,639.0 588.0,639.1 589.0,639.1 590.0,639.1 591.0,639.2 592.0,639.2 593.0,639.2 594.0,639.3 595.0,639.3 596.0,639.3 597.0,639.4 598.0,639.4 599.0,639.4 600.0,639.5 601.0,639.5 602.0,639.6 603.0,639.6 604.0,639.6 605.0,639.7 606.0,639.7 607.0,639.7 608.0,639.8 609.0,639.8 610.0,639.8 611.0,639.9 612.0,639.9 613.0,640.0 614.0,640.0 615.0,640.0 616.0,640.1 617.0,640.1 618.0,640.1 619.0,640.2 620.0,640.2 621.0,640.3 622.0,640.3 623.0,640.3 624.0,640.4 625.0,640.4 626.0,640.5 627.0,640.5 628.0,640.5 629.0,640.6 630.0,640.6 631.0,640.7 632.0,640.7 633.0,640.7 634.0,640.8 635.0,640.8 636.0,640.9 637.0,640.9 638.0,640.9 639.0,641.0 640.0,641.0 641.0,641.1 642.0,641.1 643.0,641.2 644.0,641.2 645.0,641.2 646.0,641.3 647.0,641.3 648.0,641.4 649.0,641.4 650.0,641.4 651.0,641.5 652.0,641.5 653.0,641.6 654.0,641.6 655.0,641.7 656.0,641.7 657.0,641.7 658.0,641.8 659.0,641.8 660.0,641.9 661.0,641.9 662.0,642.0 663.0,642.0 664.0,642.1 665.0,642.1 666.0,642.1 667.0,642.2 668.0,642.2 669.0,642.3 670.0,642.3 671.0,642.4 672.0,642.4 673.0,642.4 674.0,642.5 675.0,642.5 676.0,642.6 677.0,642.6 678.0,642.7 679.0,642.7 680.0,642.8 681.0,642.8" fill="none" stroke="#2ca02c" stroke-width="3" stroke-dasharray="11.1 4.8" stroke-dashoffset="-0.8"/></g><g clip-path="url(#c2)"><path d="M89.0,682.7 90.0,682.7 91.0,682.7 92.0,682.7 93.0,682.7 94.0,682.7 95.0,682.7 96.0,682.7 97.0,682.7 98.0,682.7 99.0,682.7 100.0,682.7 101.0,682.7 102.0,682.7 103.0,682.7 104.0,682.7 105.0,682.7 106.0,682.7 107.0,682.7 108.0,682.7 109.0,682.7 110.0,682.7 111.0,682.7 112.0,682.7 113.0,682.7 114.0,682.7 115.0,682.7 116.0,682.7 117.0,682.7 118.0,682.7 119.0,682.7 120.0,682.7 121.0,682.7 122.0,682.7 123.0,682.7 124.0,682.7 125.0,682.7 126.0,682.7 127.0,682.7 128.0,682.7 129.0,682.7 130.0,682.7 131.0,682.7 132.0,682.7 133.0,682.7 134.0,682.7 135.0,682.7 136.0,682.7 137.0,682.7 138.0,682.7 139.0,682.7 140.0,682.7 141.0,682.7 142.0,682.7 143.0,682.7 144.0,682.7 145.0,682.7 146.0,682.7 147.0,682.7 148.0,682.7 149.0,682.7 150.0,682.7 151.0,682.7 152.0,682.7 153.0,682.7 154.0,682.7 155.0,682.7 156.0,682.7 157.0,682.7 158.0,682.7 159.0,682.7 160.0,682.7 161.0,682.7 162.0,682.7 163.0,682.7 164.0,682.7 165.0,682.7 166.0,682.7 167.0,682.7 168.0,682.7 169.0,682.7 170.0,682.7 171.0,682.7 172.0,682.7 173.0,682.7 174.0,682.7 175.0,682.7 176.0,682.7 177.0,682.7 178.0,682.7 179.0,682.7 180.0,682.7 181.0,682.7 182.0,682.7 183.0,682.7 184.0,682.7 185.0,682.7 186.0,682.7 187.0,682.7 188.0,682.7 189.0,682.7 190.0,682.7 191.0,682.7 192.0,682.7 193.0,682.7 194.0,682.7 195.0,682.7 196.0,682.7 197.0,682.7 198.0,682.7 199.0,682.6 200.0,682.6 201.0,682.6 202.0,682.6 203.0,682.6 204.0,682.6 205.0,682.6 206.0,682.6 207.0,682.6 208.0,682.6 209.0,682.6 210.0,682.6 211.0,682.6 212.0,682.5 213.0,682.5 214.0,682.5 215.0,682.4 216.0,682.4 217.0,682.3 218.0,682.2 219.0,682.1 220.0,682.0 221.0,681.8 222.0,681.6 223.0,681.4 224.0,681.1 225.0,680.8 226.0,680.5 227.0,680.0 228.0,679.5 229.0,679.0 230.0,678.3 231.0,677.5 232.0,676.7 233.0,675.7 234.0,674.6 235.0,673.3 236.0,671.9 237.0,670.3 238.0,668.6 239.0,666.6 240.0,664.5 241.0,662.2 242.0,659.7 243.0,656.9 244.0,654.0 245.0,650.8 246.0,647.4 247.0,643.9 248.0,640.1 249.0,636.1 250.0,631.9 251.0,627.6 252.0,623.1 253.0,618.5 254.0,613.8 255.0,609.0 256.0,604.1 257.0,599.2 258.0,594.3 259.0,589.4 260.0,584.5 261.0,579.7 262.0,575.1 263.0,570.5 264.0,566.1 265.0,561.8 266.0,557.7 267.0,553.8 268.0,550.0 269.0,546.5 270.0,543.2 271.0,540.1 272.0,537.3 273.0,534.7 274.0,532.5 275.0,530.5 276.0,528.9 277.0,527.5 278.0,526.4 279.0,525.5 280.0,525.0 281.0,524.6 282.0,524.5 283.0,524.6 284.0,524.9 285.0,525.3 286.0,526.0 287.0,526.8 288.0,527.7 289.0,528.7 290.0,529.8 291.0,531.1 292.0,532.3 293.0,533.7 294.0,535.1 295.0,536.6 296.0,538.1 297.0,539.6 298.0,541.1 299.0,542.7 300.0,544.2 301.0,545.8 302.0,547.3 303.0,548.9 304.0,550.4 305.0,551.9 306.0,553.5 307.0,554.9 308.0,556.4 309.0,557.9 310.0,559.3 311.0,560.7 312.0,562.1 313.0,563.5 314.0,564.8 315.0,566.1 316.0,567.4 317.0,568.7 318.0,570.0 319.0,571.2 320.0,572.4 321.0,573.6 322.0,574.8 323.0,575.9 324.0,577.1 325.0,578.2 326.0,579.3 327.0,580.4 328.0,581.4 329.0,582.4 330.0,583.5 331.0,584.5 332.0,585.4 333.0,586.4 334.0,587.3 335.0,588.3 336.0,589.2 337.0,590.1 338.0,590.9 339.0,591.8 340.0,592.7 341.0,593.5 342.0,594.3 343.0,595.1 344.0,595.9 345.0,596.7 346.0,597.4 347.0,598.2 348.0,598.9 349.0,599.6 350.0,600.3 351.0,601.0 352.0,601.7 353.0,602.4 354.0,603.0 355.0,603.7 356.0,604.3 357.0,604.9 358.0,605.5 359.0,606.1 360.0,606.7 361.0,607.3 362.0,607.8 363.0,608.4 364.0,608.9 365.0,609.5 366.0,610.0 367.0,610.5 368.0,611.0 369.0,611.5 370.0,612.0 371.0,612.5 372.0,612.9 373.0,613.4 374.0,613.9 375.0,614.3 376.0,614.7 377.0,615.2 378.0,615.6 379.0,616.0 380.0,616.4 381.0,616.8 382.0,617.2 383.0,617.6 384.0,618.0 385.0,618.3 386.0,618.7 387.0,619.0 388.0,619.4 389.0,619.7 390.0,620.1 391.0,620.4 392.0,620.7 393.0,621.0 394.0,621.3 395.0,621.7 396.0,622.0 397.0,622.2 398.0,622.5 399.0,622.8 400.0,623.1 401.0,623.4 402.0,623.6 403.0,623.9 404.0,624.2 405.0,624.4 406.0,624.7 407.0,624.9 408.0,625.2 409.0,625.4 410.0,625.6 411.0,625.8 412.0,626.1 413.0,626.3 414.0,626.5 415.0,626.7 416.0,626.9 417.0,627.1 418.0,627.3 419.0,627.5 420.0,627.7 421.0,627.9 422.0,628.1 423.0,628.3 424.0,628.5 425.0,628.6 426.0,628.8 427.0,629.0 428.0,629.1 429.0,629.3 430.0,629.5 431.0,629.6 432.0,629.8 433.0,629.9 434.0,630.1 435.0,630.2 436.0,630.4 437.0,630.5 438.0,630.6 439.0,630.8 440.0,630.9 441.0,631.0 442.0,631.2 443.0,631.3 444.0,631.4 445.0,631.5 446.0,631.7 447.0,631.8 448.0,631.9 449.0,632.0 450.0,632.1 451.0,632.2 452.0,632.3 453.0,632.4 454.0,632.6 455.0,632.7 456.0,632.8 457.0,632.9 458.0,633.0 459.0,633.1 460.0,633.1 461.0,633.2 462.0,633.3 463.0,633.4 464.0,633.5 465.0,633.6 466.0,633.7 467.0,633.8 468.0,633.8 469.0,633.9 470.0,634.0 471.0,634.1 472.0,634.2 473.0,634.2 474.0,634.3 475.0,634.4 476.0,634.5 477.0,634.5 478.0,634.6 479.0,634.7 480.0,634.7 481.0,634.8 482.0,634.9 483.0,634.9 484.0,635.0 485.0,635.1 486.0,635.1 487.0,635.2 488.0,635.3 489.0,635.3 490.0,635.4 491.0,635.4 492.0,635.5 493.0,635.6 494.0,635.6 495.0,635.7 496.0,635.7 497.0,635.8 498.0,635.8 499.0,635.9 500.0,635.9 501.0,636.0 502.0,636.0 503.0,636.1 504.0,636.1 505.0,636.2 506.0,636.2 507.0,636.3 508.0,636.3 509.0,636.4 510.0,636.4 511.0,636.5 512.0,636.5 513.0,636.6 514.0,636.6 515.0,636.7 516.0,636.7 517.0,636.7 518.0,636.8 519.0,636.8 520.0,636.9 521.0,636.9 522.0,637.0 523.0,637.0 524.0,637.0 525.0,637.1 526.0,637.1 527.0,637.2 528.0,637.2 529.0,637.2 530.0,637.3 531.0,637.3 532.0,637.4 533.0,637.4 534.0,637.4 535.0,637.5 536.0,637.5 537.0,637.6 538.0,637.6 539.0,637.6 540.0,637.7 541.0,637.7 542.0,637.7 543.0,637.8 544.0,637.8 545.0,637.8 546.0,637.9 547.0,637.9 548.0,638.0 549.0,638.0 550.0,638.0 551.0,638.1 552.0,638.1 553.0,638.1 554.0,638.2 555.0,638.2 556.0,638.2 557.0,638.3 558.0,638.3 559.0,638.3 560.0,638.4 561.0,638.4 562.0,638.4 563.0,638.5 564.0,638.5 565.0,638.5 566.0,638.6 567.0,638.6 568.0,638.6 569.0,638.7 570.0,638.7 571.0,638.7 572.0,638.8 573.0,638.8 574.0,638.8 575.0,638.9 576.0,638.9 577.0,638.9 578.0,639.0 579.0,639.0 580.0,639.0 581.0,639.1 582.0,639.1 583.0,639.1 584.0,639.2 585.0,639.2 586.0,639.2 587.0,639.3 588.0,639.3 589.0,639.3 590.0,639.4 591.0,639.4 592.0,639.4 593.0,639.5 594.0,639.5 595.0,639.5 596.0,639.6 597.0,639.6 598.0,639.6 599.0,639.7 600.0,639.7 601.0,639.7 602.0,639.8 603.0,639.8 604.0,639.8 605.0,639.9 606.0,639.9 607.0,639.9 608.0,640.0 609.0,640.0 610.0,640.0 611.0,640.1 612.0,640.1 613.0,640.1 614.0,640.2 615.0,640.2 616.0,640.2 617.0,640.3 618.0,640.3 619.0,640.3 620.0,640.4 621.0,640.4 622.0,640.4 623.0,640.5 624.0,640.5 625.0,640.5 626.0,640.6 627.0,640.6 628.0,640.7 629.0,640.7 630.0,640.7 631.0,640.8 632.0,640.8 633.0,640.8 634.0,640.9 635.0,640.9 636.0,640.9 637.0,641.0 638.0,641.0 639.0,641.0 640.0,641.1 641.0,641.1 642.0,641.1 643.0,641.2 644.0,641.2 645.0,641.2 646.0,641.3 647.0,641.3 648.0,641.4 649.0,641.4 650.0,641.4 651.0,641.5 652.0,641.5 653.0,641.5 654.0,641.6 655.0,641.6 656.0,641.6 657.0,641.7 658.0,641.7 659.0,641.8 660.0,641.8 661.0,641.8 662.0,641.9 663.0,641.9 664.0,641.9 665.0,642.0 666.0,642.0 667.0,642.0 668.0,642.1 669.0,642.1 670.0,642.2 671.0,642.2 672.0,642.2 673.0,642.3 674.0,642.3 675.0,642.3 676.0,642.4 677.0,642.4 678.0,642.5 679.0,642.5 680.0,642.5 681.0,642.6" fill="none" stroke="#2ca02c" stroke-width="5.0" stroke-linejoin="round"/></g>
<circle cx="102.5" cy="685.5" r="4" fill="#2ca02c"/><circle cx="106.7" cy="686.7" r="4" fill="#2ca02c"/><circle cx="123.0" cy="686.3" r="4" fill="#2ca02c"/><circle cx="140.6" cy="683.2" r="4" fill="#2ca02c"/><circle cx="146.9" cy="686.7" r="4" fill="#2ca02c"/><circle cx="157.6" cy="683.9" r="4" fill="#2ca02c"/><circle cx="169.8" cy="682.0" r="4" fill="#2ca02c"/><circle cx="174.9" cy="683.9" r="4" fill="#2ca02c"/><circle cx="192.6" cy="682.7" r="4" fill="#2ca02c"/><circle cx="208.3" cy="682.0" r="4" fill="#2ca02c"/><circle cx="215.3" cy="680.2" r="4" fill="#2ca02c"/><circle cx="226.3" cy="675.0" r="4" fill="#2ca02c"/><circle cx="237.5" cy="664.5" r="4" fill="#2ca02c"/><circle cx="241.7" cy="650.5" r="4" fill="#2ca02c"/><circle cx="260.6" cy="577.5" r="4" fill="#2ca02c"/><circle cx="276.5" cy="527.4" r="4" fill="#2ca02c"/><circle cx="283.8" cy="526.1" r="4" fill="#2ca02c"/><circle cx="293.6" cy="535.3" r="4" fill="#2ca02c"/><circle cx="306.8" cy="559.0" r="4" fill="#2ca02c"/><circle cx="310.7" cy="557.7" r="4" fill="#2ca02c"/><circle cx="328.7" cy="575.6" r="4" fill="#2ca02c"/><circle cx="329.2" cy="584.0" r="4" fill="#2ca02c"/><circle cx="344.7" cy="595.8" r="4" fill="#2ca02c"/><circle cx="351.8" cy="601.5" r="4" fill="#2ca02c"/><circle cx="362.3" cy="606.3" r="4" fill="#2ca02c"/><circle cx="374.2" cy="616.8" r="4" fill="#2ca02c"/><circle cx="379.9" cy="613.6" r="4" fill="#2ca02c"/><circle cx="396.5" cy="616.8" r="4" fill="#2ca02c"/><circle cx="397.3" cy="622.6" r="4" fill="#2ca02c"/><circle cx="413.6" cy="620.7" r="4" fill="#2ca02c"/><circle cx="420.1" cy="628.6" r="4" fill="#2ca02c"/><circle cx="430.7" cy="622.0" r="4" fill="#2ca02c"/><circle cx="443.0" cy="632.6" r="4" fill="#2ca02c"/><circle cx="447.7" cy="631.2" r="4" fill="#2ca02c"/><circle cx="464.8" cy="628.6" r="4" fill="#2ca02c"/><circle cx="467.4" cy="635.2" r="4" fill="#2ca02c"/><circle cx="481.9" cy="635.2" r="4" fill="#2ca02c"/><circle cx="488.5" cy="637.8" r="4" fill="#2ca02c"/><circle cx="499.0" cy="633.9" r="4" fill="#2ca02c"/><circle cx="510.8" cy="638.3" r="4" fill="#2ca02c"/><circle cx="516.1" cy="635.7" r="4" fill="#2ca02c"/><circle cx="533.4" cy="638.1" r="4" fill="#2ca02c"/><circle cx="550.2" cy="634.7" r="4" fill="#2ca02c"/><circle cx="557.0" cy="638.1" r="4" fill="#2ca02c"/><circle cx="567.3" cy="636.0" r="4" fill="#2ca02c"/><circle cx="579.4" cy="639.4" r="4" fill="#2ca02c"/><circle cx="583.8" cy="638.1" r="4" fill="#2ca02c"/><circle cx="602.2" cy="640.7" r="4" fill="#2ca02c"/><circle cx="618.0" cy="635.5" r="4" fill="#2ca02c"/><circle cx="625.3" cy="638.1" r="4" fill="#2ca02c"/><circle cx="635.1" cy="636.8" r="4" fill="#2ca02c"/><circle cx="647.7" cy="639.9" r="4" fill="#2ca02c"/><circle cx="670.0" cy="641.5" r="4" fill="#2ca02c"/>
<rect x="667.2" y="308.2" width="5.8" height="1.5" fill="#000"/>
<line x1="90.62" y1="205.20" x2="90.62" y2="210.80" class="k"/>
<line x1="90.62" y1="5.60" x2="90.62" y2="0.00" class="k"/>
<line x1="147.48" y1="205.20" x2="147.48" y2="210.80" class="k"/>
<line x1="147.48" y1="5.60" x2="147.48" y2="0.00" class="k"/>
<line x1="204.34" y1="205.20" x2="204.34" y2="210.80" class="k"/>
<line x1="204.34" y1="5.60" x2="204.34" y2="0.00" class="k"/>
<line x1="261.20" y1="205.20" x2="261.20" y2="210.80" class="k"/>
<line x1="261.20" y1="5.60" x2="261.20" y2="0.00" class="k"/>
<line x1="318.06" y1="205.20" x2="318.06" y2="210.80" class="k"/>
<line x1="318.06" y1="5.60" x2="318.06" y2="0.00" class="k"/>
<line x1="374.92" y1="205.20" x2="374.92" y2="210.80" class="k"/>
<line x1="374.92" y1="5.60" x2="374.92" y2="0.00" class="k"/>
<line x1="431.78" y1="205.20" x2="431.78" y2="210.80" class="k"/>
<line x1="431.78" y1="5.60" x2="431.78" y2="0.00" class="k"/>
<line x1="488.64" y1="205.20" x2="488.64" y2="210.80" class="k"/>
<line x1="488.64" y1="5.60" x2="488.64" y2="0.00" class="k"/>
<line x1="545.50" y1="205.20" x2="545.50" y2="210.80" class="k"/>
<line x1="545.50" y1="5.60" x2="545.50" y2="0.00" class="k"/>
<line x1="602.36" y1="205.20" x2="602.36" y2="210.80" class="k"/>
<line x1="602.36" y1="5.60" x2="602.36" y2="0.00" class="k"/>
<line x1="659.22" y1="205.20" x2="659.22" y2="210.80" class="k"/>
<line x1="659.22" y1="5.60" x2="659.22" y2="0.00" class="k"/>
<line x1="90.60" y1="192.20" x2="85.00" y2="192.20" class="k"/>
<line x1="679.40" y1="192.20" x2="685.00" y2="192.20" class="k"/>
<line x1="90.60" y1="142.40" x2="85.00" y2="142.40" class="k"/>
<line x1="679.40" y1="142.40" x2="685.00" y2="142.40" class="k"/>
<line x1="90.60" y1="92.60" x2="85.00" y2="92.60" class="k"/>
<line x1="679.40" y1="92.60" x2="685.00" y2="92.60" class="k"/>
<line x1="90.60" y1="42.80" x2="85.00" y2="42.80" class="k"/>
<line x1="679.40" y1="42.80" x2="685.00" y2="42.80" class="k"/>
<path d="M679.40,205.20 L90.60,205.20 L90.60,5.60 L679.40,5.60" class="frame"/>
<line x1="90.62" y1="454.80" x2="90.62" y2="460.40" class="k"/>
<line x1="90.62" y1="255.40" x2="90.62" y2="249.80" class="k"/>
<line x1="147.48" y1="454.80" x2="147.48" y2="460.40" class="k"/>
<line x1="147.48" y1="255.40" x2="147.48" y2="249.80" class="k"/>
<line x1="204.34" y1="454.80" x2="204.34" y2="460.40" class="k"/>
<line x1="204.34" y1="255.40" x2="204.34" y2="249.80" class="k"/>
<line x1="261.20" y1="454.80" x2="261.20" y2="460.40" class="k"/>
<line x1="261.20" y1="255.40" x2="261.20" y2="249.80" class="k"/>
<line x1="318.06" y1="454.80" x2="318.06" y2="460.40" class="k"/>
<line x1="318.06" y1="255.40" x2="318.06" y2="249.80" class="k"/>
<line x1="374.92" y1="454.80" x2="374.92" y2="460.40" class="k"/>
<line x1="374.92" y1="255.40" x2="374.92" y2="249.80" class="k"/>
<line x1="431.78" y1="454.80" x2="431.78" y2="460.40" class="k"/>
<line x1="431.78" y1="255.40" x2="431.78" y2="249.80" class="k"/>
<line x1="488.64" y1="454.80" x2="488.64" y2="460.40" class="k"/>
<line x1="488.64" y1="255.40" x2="488.64" y2="249.80" class="k"/>
<line x1="545.50" y1="454.80" x2="545.50" y2="460.40" class="k"/>
<line x1="545.50" y1="255.40" x2="545.50" y2="249.80" class="k"/>
<line x1="602.36" y1="454.80" x2="602.36" y2="460.40" class="k"/>
<line x1="602.36" y1="255.40" x2="602.36" y2="249.80" class="k"/>
<line x1="659.22" y1="454.80" x2="659.22" y2="460.40" class="k"/>
<line x1="659.22" y1="255.40" x2="659.22" y2="249.80" class="k"/>
<line x1="90.60" y1="418.90" x2="85.00" y2="418.90" class="k"/>
<line x1="679.40" y1="418.90" x2="685.00" y2="418.90" class="k"/>
<line x1="90.60" y1="346.05" x2="85.00" y2="346.05" class="k"/>
<line x1="679.40" y1="346.05" x2="685.00" y2="346.05" class="k"/>
<line x1="90.60" y1="273.20" x2="85.00" y2="273.20" class="k"/>
<line x1="679.40" y1="273.20" x2="685.00" y2="273.20" class="k"/>
<path d="M679.40,454.80 L90.60,454.80 L90.60,255.40 L679.40,255.40" class="frame"/>
<line x1="90.62" y1="704.30" x2="90.62" y2="709.90" class="k"/>
<line x1="90.62" y1="504.80" x2="90.62" y2="499.20" class="k"/>
<line x1="147.48" y1="704.30" x2="147.48" y2="709.90" class="k"/>
<line x1="147.48" y1="504.80" x2="147.48" y2="499.20" class="k"/>
<line x1="204.34" y1="704.30" x2="204.34" y2="709.90" class="k"/>
<line x1="204.34" y1="504.80" x2="204.34" y2="499.20" class="k"/>
<line x1="261.20" y1="704.30" x2="261.20" y2="709.90" class="k"/>
<line x1="261.20" y1="504.80" x2="261.20" y2="499.20" class="k"/>
<line x1="318.06" y1="704.30" x2="318.06" y2="709.90" class="k"/>
<line x1="318.06" y1="504.80" x2="318.06" y2="499.20" class="k"/>
<line x1="374.92" y1="704.30" x2="374.92" y2="709.90" class="k"/>
<line x1="374.92" y1="504.80" x2="374.92" y2="499.20" class="k"/>
<line x1="431.78" y1="704.30" x2="431.78" y2="709.90" class="k"/>
<line x1="431.78" y1="504.80" x2="431.78" y2="499.20" class="k"/>
<line x1="488.64" y1="704.30" x2="488.64" y2="709.90" class="k"/>
<line x1="488.64" y1="504.80" x2="488.64" y2="499.20" class="k"/>
<line x1="545.50" y1="704.30" x2="545.50" y2="709.90" class="k"/>
<line x1="545.50" y1="504.80" x2="545.50" y2="499.20" class="k"/>
<line x1="602.36" y1="704.30" x2="602.36" y2="709.90" class="k"/>
<line x1="602.36" y1="504.80" x2="602.36" y2="499.20" class="k"/>
<line x1="659.22" y1="704.30" x2="659.22" y2="709.90" class="k"/>
<line x1="659.22" y1="504.80" x2="659.22" y2="499.20" class="k"/>
<line x1="90.60" y1="670.70" x2="85.00" y2="670.70" class="k"/>
<line x1="679.40" y1="670.70" x2="685.00" y2="670.70" class="k"/>
<line x1="90.60" y1="604.05" x2="85.00" y2="604.05" class="k"/>
<line x1="679.40" y1="604.05" x2="685.00" y2="604.05" class="k"/>
<line x1="90.60" y1="537.40" x2="85.00" y2="537.40" class="k"/>
<line x1="679.40" y1="537.40" x2="685.00" y2="537.40" class="k"/>
<path d="M679.40,704.30 L90.60,704.30 L90.60,504.80 L679.40,504.80" class="frame"/>
<text transform="translate(143.70,231.80) scale(1,1.06)" class="t" text-anchor="middle">−20</text>
<text transform="translate(269.60,231.80) scale(1,1.06)" class="t" text-anchor="middle">0</text>
<text transform="translate(391.60,231.80) scale(1,1.06)" class="t" text-anchor="middle">20</text>
<text transform="translate(489.40,231.80) scale(1,1.06)" class="t" text-anchor="middle">40</text>
<text transform="translate(611.00,231.80) scale(1,1.06)" class="t" text-anchor="middle">60</text>
<text transform="translate(78.60,199.80) scale(1,1.06)" class="t" text-anchor="end">4</text>
<text transform="translate(78.60,150.00) scale(1,1.06)" class="t" text-anchor="end">6</text>
<text transform="translate(78.60,100.20) scale(1,1.06)" class="t" text-anchor="end">8</text>
<text transform="translate(78.60,50.40) scale(1,1.06)" class="t" text-anchor="end"><tspan class="one">1</tspan>0</text>
<text transform="translate(35.70,100.20) rotate(-90) scale(1,1.0)" class="t yl" text-anchor="middle">Ion yield (pC/shot)</text>
<text transform="translate(143.70,481.40) scale(1,1.06)" class="t" text-anchor="middle">−20</text>
<text transform="translate(269.60,481.40) scale(1,1.06)" class="t" text-anchor="middle">0</text>
<text transform="translate(391.60,481.40) scale(1,1.06)" class="t" text-anchor="middle">20</text>
<text transform="translate(489.40,481.40) scale(1,1.06)" class="t" text-anchor="middle">40</text>
<text transform="translate(611.00,481.40) scale(1,1.06)" class="t" text-anchor="middle">60</text>
<text transform="translate(82.10,425.10) scale(1,1.06)" class="t" text-anchor="end" style="font-size:21.0px">0.0<tspan class="one">1</tspan>5</text>
<text transform="translate(82.10,352.85) scale(1,1.06)" class="t" text-anchor="end" style="font-size:21.0px">0.025</text>
<text transform="translate(82.10,280.20) scale(1,1.06)" class="t" text-anchor="end" style="font-size:21.0px">0.035</text>
<text transform="translate(15.00,347.20) rotate(-90) scale(1,1.0)" class="t yl" text-anchor="middle">Ion yield (pC/shot)</text>
<text transform="translate(143.70,730.90) scale(1,1.06)" class="t" text-anchor="middle">−20</text>
<text transform="translate(269.60,730.90) scale(1,1.06)" class="t" text-anchor="middle">0</text>
<text transform="translate(391.60,730.90) scale(1,1.06)" class="t" text-anchor="middle">20</text>
<text transform="translate(489.40,730.90) scale(1,1.06)" class="t" text-anchor="middle">40</text>
<text transform="translate(611.00,730.90) scale(1,1.06)" class="t" text-anchor="middle">60</text>
<text transform="translate(79.20,678.30) scale(1,1.06)" class="t" text-anchor="end">0.<tspan class="one">1</tspan></text>
<text transform="translate(79.20,611.05) scale(1,1.06)" class="t" text-anchor="end">0.2</text>
<text transform="translate(79.20,545.00) scale(1,1.06)" class="t" text-anchor="end">0.3</text>
<text transform="translate(35.85,599.40) rotate(-90) scale(1,1.0)" class="t yl" text-anchor="middle">Ion yield (pC/shot)</text>
<text transform="translate(104.20,45.80) scale(1,1.06)" class="t lab">CH<tspan class="sub" dx="-0.5" dy="7.0">3</tspan><tspan dy="-7.0">I</tspan><tspan class="sup" dx="-0.6" dy="-6.4">+</tspan></text>
<text transform="translate(104.80,294.80) scale(1,1.06)" class="t lab">I<tspan class="sup" dx="-0.8" dy="-6.4">+</tspan></text>
<text transform="translate(104.20,544.80) scale(1,1.06)" class="t lab">CH<tspan class="sub" dx="-0.5" dy="7.0">3</tspan><tspan class="sup" dx="-0.1" dy="-13.4">+</tspan></text>
<text transform="translate(330.50,66.00) scale(1,1.06)" class="t g"><tspan class="tau">τ</tspan><tspan class="sub" dx="1.5" dy="7.0">0</tspan><tspan dx="-0.7" dy="-7.0">= 5.0 ± 0.4 fs</tspan></text>
<text transform="translate(331.00,284.80) scale(1,1.06)" class="t g"><tspan class="tau">τ</tspan><tspan class="sub" dx="1.5" dy="7.0">0</tspan><tspan dx="0.3" dy="-7.0">= 25 ± 2 fs</tspan></text>
<text transform="translate(551.30,346.20) scale(1,1.06)" class="t g"><tspan class="tau">τ</tspan><tspan class="sub" dx="0.8" dy="7.0"><tspan class="one">1</tspan></tspan><tspan dx="-0.7" dy="-7.0">= <tspan class="one">1</tspan><tspan class="one">1</tspan> ± 2 fs</tspan></text>
<text transform="translate(331.00,542.80) scale(1,1.06)" class="t g"><tspan class="tau">τ</tspan><tspan class="sub" dx="1.5" dy="7.0">0</tspan><tspan dx="-1.0" dy="-7.0">= <tspan class="one">1</tspan>0 ± 2 fs</tspan></text>
<text transform="translate(343.90,687.30) scale(1,1.06)" class="t g"><tspan class="tau">τ</tspan><tspan class="sub" dx="0.9" dy="7.0"><tspan class="one">1</tspan></tspan><tspan dx="-0.9" dy="-7.0">= <tspan class="one">1</tspan>8 ± 5 fs</tspan></text>
<text transform="translate(388.60,754.60) scale(1,1.0)" class="t xl" text-anchor="middle">NIR delay (fs)</text>
<path transform="translate(78.60,50.40) scale(1,1.06) translate(-22.93,0.00) scale(0.01006,-0.00963)" d="M763 0H583V1147Q518 1085 412.5 1023T223 930V1104Q375 1175 489 1276T650 1472H763V0Z" fill="rgb(0, 0, 0)"/>
<path transform="translate(82.10,425.10) scale(1,1.06) translate(-23.35,0.00) scale(0.01025,-0.00982)" d="M763 0H583V1147Q518 1085 412.5 1023T223 930V1104Q375 1175 489 1276T650 1472H763V0Z" fill="rgb(0, 0, 0)"/>
<path transform="translate(79.20,678.30) scale(1,1.06) translate(-11.46,0.00) scale(0.01006,-0.00963)" d="M763 0H583V1147Q518 1085 412.5 1023T223 930V1104Q375 1175 489 1276T650 1472H763V0Z" fill="rgb(0, 0, 0)"/>
<path transform="translate(330.50,66.00)" d="M0.7,-8.3 C1.2,-9.1 1.8,-9.35 2.8,-9.35 L9.9,-9.35 M5.6,-9.35 L5.6,-2.4 C5.6,-1.0 6.4,-0.8 8.7,-0.85" fill="none" stroke="rgb(166, 166, 166)" stroke-width="2.0"/>
<path transform="translate(331.00,284.80)" d="M0.7,-8.3 C1.2,-9.1 1.8,-9.35 2.8,-9.35 L9.9,-9.35 M5.6,-9.35 L5.6,-2.4 C5.6,-1.0 6.4,-0.8 8.7,-0.85" fill="none" stroke="rgb(166, 166, 166)" stroke-width="2.0"/>
<path transform="translate(551.30,346.20)" d="M0.7,-8.3 C1.2,-9.1 1.8,-9.35 2.8,-9.35 L9.9,-9.35 M5.6,-9.35 L5.6,-2.4 C5.6,-1.0 6.4,-0.8 8.7,-0.85" fill="none" stroke="rgb(166, 166, 166)" stroke-width="2.0"/>
<path transform="translate(551.30,346.20) scale(1,1.06) translate(8.94,7.00) scale(0.00601,-0.00575)" d="M763 0H583V1147Q518 1085 412.5 1023T223 930V1104Q375 1175 489 1276T650 1472H763V0Z" fill="rgb(166, 166, 166)"/>
<path transform="translate(551.30,346.20) scale(1,1.06) translate(32.84,0.00) scale(0.01006,-0.00963)" d="M763 0H583V1147Q518 1085 412.5 1023T223 930V1104Q375 1175 489 1276T650 1472H763V0Z" fill="rgb(166, 166, 166)"/>
<path transform="translate(551.30,346.20) scale(1,1.06) translate(44.30,0.00) scale(0.01006,-0.00963)" d="M763 0H583V1147Q518 1085 412.5 1023T223 930V1104Q375 1175 489 1276T650 1472H763V0Z" fill="rgb(166, 166, 166)"/>
<path transform="translate(331.00,542.80)" d="M0.7,-8.3 C1.2,-9.1 1.8,-9.35 2.8,-9.35 L9.9,-9.35 M5.6,-9.35 L5.6,-2.4 C5.6,-1.0 6.4,-0.8 8.7,-0.85" fill="none" stroke="rgb(166, 166, 166)" stroke-width="2.0"/>
<path transform="translate(331.00,542.80) scale(1,1.06) translate(33.24,0.00) scale(0.01006,-0.00963)" d="M763 0H583V1147Q518 1085 412.5 1023T223 930V1104Q375 1175 489 1276T650 1472H763V0Z" fill="rgb(166, 166, 166)"/>
<path transform="translate(343.90,687.30)" d="M0.7,-8.3 C1.2,-9.1 1.8,-9.35 2.8,-9.35 L9.9,-9.35 M5.6,-9.35 L5.6,-2.4 C5.6,-1.0 6.4,-0.8 8.7,-0.85" fill="none" stroke="rgb(166, 166, 166)" stroke-width="2.0"/>
<path transform="translate(343.90,687.30) scale(1,1.06) translate(9.04,7.00) scale(0.00601,-0.00575)" d="M763 0H583V1147Q518 1085 412.5 1023T223 930V1104Q375 1175 489 1276T650 1472H763V0Z" fill="rgb(166, 166, 166)"/>
<path transform="translate(343.90,687.30) scale(1,1.06) translate(32.74,0.00) scale(0.01006,-0.00963)" d="M763 0H583V1147Q518 1085 412.5 1023T223 930V1104Q375 1175 489 1276T650 1472H763V0Z" fill="rgb(166, 166, 166)"/>
</svg>
</body></html>
